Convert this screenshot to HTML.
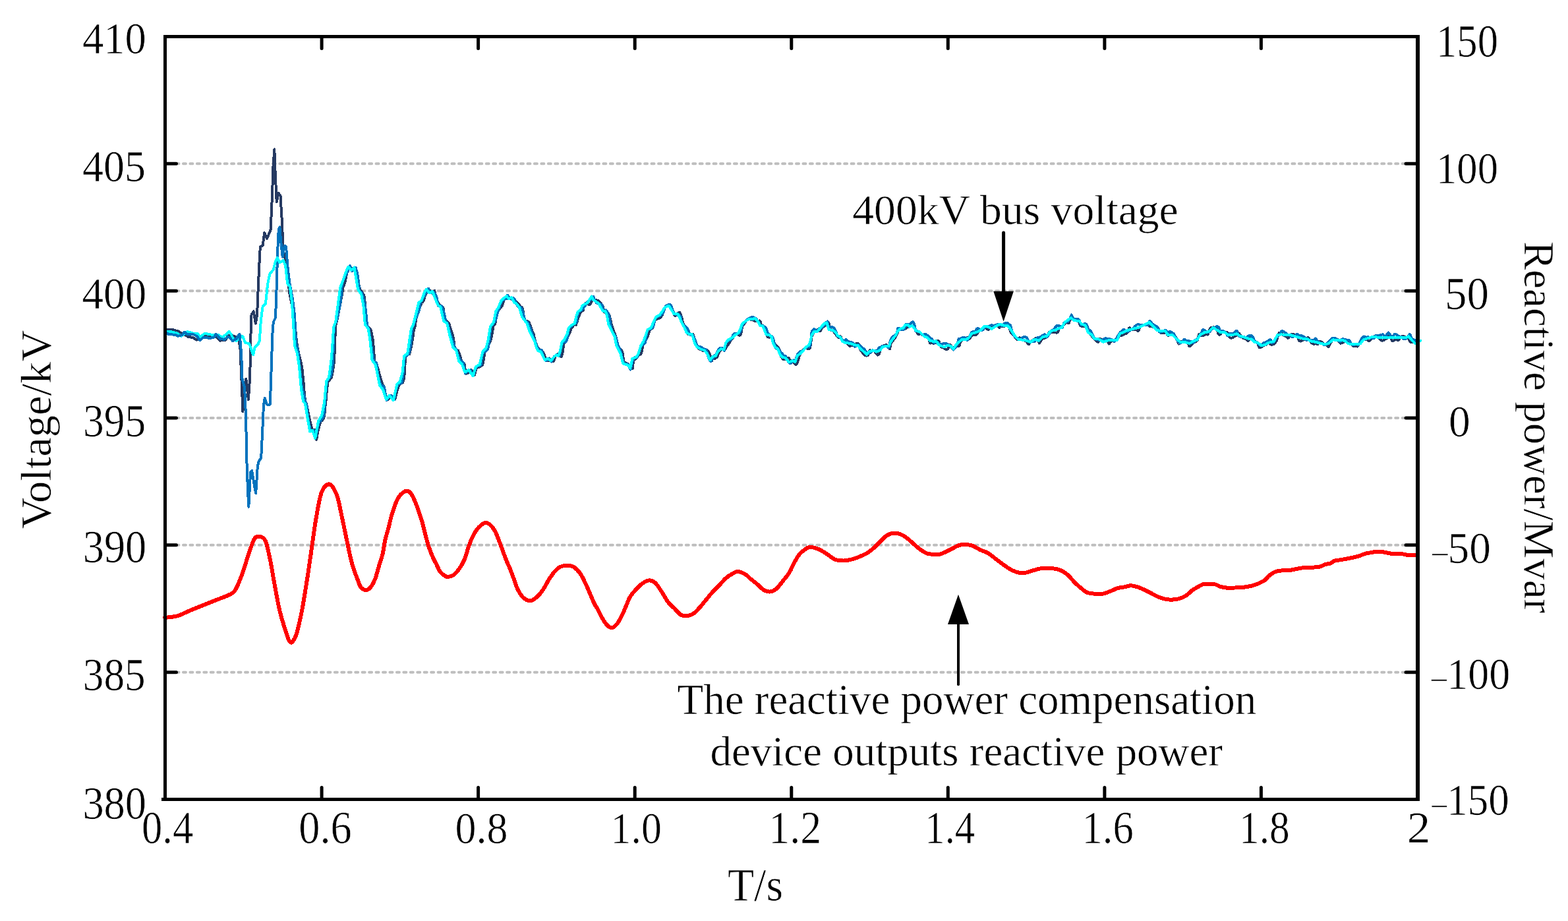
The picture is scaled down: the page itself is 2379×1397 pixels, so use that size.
<!DOCTYPE html>
<html><head><meta charset="utf-8"><style>html,body{margin:0;padding:0;background:#fff;overflow:hidden}svg{display:block}</style></head>
<body>
<svg width="2379" height="1397" viewBox="0 0 2379 1397">
<rect width="2379" height="1397" fill="#fff"/>
<line x1="267.5" y1="248.3" x2="2133.0" y2="248.3" stroke="#bebebe" stroke-width="4" stroke-dasharray="4 6.45" stroke-linecap="round"/>
<line x1="267.5" y1="441.2" x2="2133.0" y2="441.2" stroke="#bebebe" stroke-width="4" stroke-dasharray="4 6.45" stroke-linecap="round"/>
<line x1="267.5" y1="634.0" x2="2133.0" y2="634.0" stroke="#bebebe" stroke-width="4" stroke-dasharray="4 6.45" stroke-linecap="round"/>
<line x1="267.5" y1="826.8" x2="2133.0" y2="826.8" stroke="#bebebe" stroke-width="4" stroke-dasharray="4 6.45" stroke-linecap="round"/>
<line x1="267.5" y1="1019.7" x2="2133.0" y2="1019.7" stroke="#bebebe" stroke-width="4" stroke-dasharray="4 6.45" stroke-linecap="round"/>
<path d="M250.0 936.9C253.2 936.5 262.9 936.0 269.3 934.2C275.8 932.4 282.2 928.6 288.7 925.9C295.1 923.2 301.6 920.7 308.0 918.1C314.4 915.5 320.9 913.0 327.3 910.4C333.8 907.8 341.9 905.1 346.7 902.7C351.5 900.3 353.1 900.6 356.3 895.9C359.5 891.2 362.8 883.0 366.0 874.6C369.2 866.2 372.4 855.0 375.6 845.7C378.8 836.4 382.4 823.9 385.3 818.6C388.2 813.3 390.1 813.5 393.0 813.8C395.9 814.1 399.8 814.2 402.7 820.5C405.6 826.8 408.1 840.9 410.4 851.5C412.6 862.1 413.9 872.1 416.2 884.3C418.5 896.5 421.4 913.6 424.0 924.9C426.6 936.2 429.0 943.8 431.7 952.0C434.4 960.2 437.5 972.3 440.4 974.2C443.3 976.1 446.4 970.5 449.1 963.6C451.8 956.7 454.6 943.2 456.8 932.6C459.1 922.0 460.7 911.4 462.6 899.8C464.5 888.2 466.5 875.9 468.4 863.0C470.3 850.1 472.3 835.7 474.2 822.5C476.1 809.3 477.7 796.4 480.0 783.8C482.3 771.2 484.6 755.3 487.8 747.1C491.0 738.9 495.5 733.9 499.4 734.5C503.3 735.1 507.8 742.7 511.0 750.9C514.2 759.1 516.1 772.2 518.7 783.8C521.3 795.4 523.8 808.6 526.4 820.5C529.0 832.4 531.3 845.0 534.2 855.3C537.1 865.6 541.5 876.4 543.8 882.4C546.0 888.4 545.9 889.0 547.7 891.1C549.5 893.2 552.2 894.8 554.5 894.9C556.8 895.0 558.9 894.7 561.3 892.0C563.7 889.3 566.8 884.0 569.0 878.5C571.2 873.0 572.9 865.6 574.8 859.2C576.7 852.8 579.0 846.7 580.6 839.9C582.2 833.1 583.0 825.0 584.5 818.6C586.0 812.2 587.7 807.3 589.3 801.2C590.9 795.1 592.3 788.0 594.1 781.9C595.9 775.8 598.0 769.3 599.9 764.5C601.8 759.7 603.8 755.8 605.7 752.9C607.6 750.0 609.6 748.5 611.5 747.1C613.4 745.7 615.4 744.6 617.3 744.7C619.2 744.9 621.2 745.7 623.1 748.0C625.0 750.3 627.0 754.4 628.9 758.7C630.8 763.1 632.8 768.6 634.7 774.1C636.6 779.6 638.7 785.4 640.5 791.5C642.3 797.6 643.8 804.8 645.4 810.9C647.0 817.0 648.4 822.8 650.2 828.3C652.0 833.8 654.1 839.2 656.0 843.7C657.9 848.2 659.9 851.4 661.8 855.3C663.7 859.2 665.4 863.8 667.6 866.9C669.9 870.0 673.2 872.4 675.3 873.7C677.4 875.1 678.0 875.3 680.2 875.0C682.5 874.7 686.1 873.7 688.8 871.7C691.5 869.7 694.0 866.7 696.6 863.0C699.2 859.3 702.0 854.6 704.3 849.5C706.5 844.4 708.2 837.6 710.1 832.1C712.0 826.6 713.6 821.5 715.9 816.7C718.1 811.9 721.0 806.7 723.6 803.1C726.2 799.5 729.3 797.1 731.4 795.4C733.5 793.7 734.3 793.1 736.2 793.1C738.1 793.1 740.6 793.4 743.0 795.4C745.4 797.4 748.5 801.2 750.7 805.1C753.0 809.0 754.6 813.8 756.5 818.6C758.4 823.4 760.4 829.0 762.3 834.1C764.2 839.2 766.2 844.7 768.1 849.5C770.0 854.3 772.0 858.2 773.9 863.0C775.8 867.8 777.8 873.3 779.7 878.5C781.6 883.7 783.2 889.5 785.5 894.0C787.8 898.5 790.1 902.7 793.2 905.6C796.3 908.5 800.4 911.4 803.9 911.4C807.4 911.4 811.1 908.5 814.5 905.6C817.9 902.7 821.3 898.2 824.2 894.0C827.1 889.8 830.0 883.6 831.9 880.4C833.8 877.2 834.2 876.9 835.8 874.6C837.4 872.4 839.4 869.3 841.6 866.9C843.9 864.5 846.1 861.6 849.3 860.1C852.5 858.6 857.3 857.6 860.9 857.6C864.5 857.6 867.4 858.1 870.6 860.1C873.8 862.1 877.4 865.8 880.3 869.8C883.2 873.8 885.4 879.0 888.0 884.3C890.6 889.6 893.5 896.6 895.7 901.7C898.0 906.9 899.6 911.3 901.5 915.2C903.4 919.1 905.4 921.4 907.3 924.9C909.2 928.4 910.8 932.6 913.1 936.5C915.4 940.4 918.3 945.5 920.9 948.1C923.5 950.7 926.0 952.3 928.6 952.0C931.2 951.7 933.7 949.4 936.3 946.2C938.9 943.0 941.8 937.1 944.1 932.6C946.4 928.1 948.0 923.6 949.9 919.1C951.8 914.6 953.5 909.5 955.7 905.6C958.0 901.7 960.5 899.1 963.4 895.9C966.3 892.7 969.5 888.8 973.0 886.2C976.5 883.6 981.1 880.7 984.6 880.4C988.1 880.1 991.1 881.4 994.3 884.3C997.5 887.2 1000.8 893.0 1004.0 897.8C1007.2 902.6 1010.4 909.1 1013.6 913.3C1016.8 917.5 1020.1 919.8 1023.3 923.0C1026.5 926.2 1029.8 930.7 1033.0 932.6C1036.2 934.5 1039.4 934.5 1042.6 934.2C1045.8 933.9 1049.1 932.9 1052.3 930.7C1055.5 928.5 1058.8 924.5 1062.0 921.0C1065.2 917.5 1068.4 913.3 1071.6 909.4C1074.8 905.5 1078.1 901.3 1081.3 897.8C1084.5 894.3 1087.8 891.6 1091.0 888.2C1094.2 884.8 1097.4 880.5 1100.6 877.6C1103.8 874.7 1107.1 872.6 1110.3 870.8C1113.5 869.0 1116.5 866.8 1120.0 866.9C1123.5 867.0 1128.4 869.8 1131.6 871.7C1134.8 873.6 1136.4 876.1 1139.3 878.5C1142.2 880.9 1145.8 883.5 1149.0 886.2C1152.2 888.9 1155.5 893.0 1158.7 894.9C1161.9 896.8 1165.1 897.8 1168.3 897.5C1171.5 897.2 1174.8 895.7 1178.0 893.0C1181.2 890.3 1184.5 885.4 1187.7 881.4C1190.9 877.4 1194.4 873.6 1197.3 868.9C1200.2 864.2 1202.5 858.1 1205.1 853.4C1207.7 848.7 1210.2 844.0 1212.8 840.8C1215.4 837.6 1217.9 835.9 1220.5 834.1C1223.1 832.3 1225.1 830.1 1228.3 829.8C1231.5 829.5 1236.7 831.1 1239.9 832.1C1243.1 833.1 1245.0 834.5 1247.6 836.0C1250.2 837.5 1252.1 838.7 1255.3 840.8C1258.5 842.9 1262.7 847.0 1266.9 848.6C1271.1 850.2 1275.9 850.6 1280.4 850.5C1284.9 850.4 1289.8 849.1 1294.0 848.0C1298.2 846.9 1301.7 845.4 1305.6 843.7C1309.5 842.0 1313.7 840.1 1317.2 837.9C1320.7 835.6 1323.6 833.1 1326.8 830.2C1330.0 827.3 1333.3 823.6 1336.5 820.5C1339.7 817.4 1342.7 813.8 1346.2 811.8C1349.8 809.8 1353.9 808.5 1357.8 808.5C1361.7 808.5 1365.9 810.1 1369.4 811.8C1372.9 813.5 1375.8 816.0 1379.0 818.6C1382.2 821.2 1385.5 824.6 1388.7 827.3C1391.9 830.0 1395.2 832.9 1398.4 835.0C1401.6 837.1 1404.4 838.9 1408.0 839.9C1411.6 840.9 1417.1 840.6 1420.0 840.8C1422.9 840.9 1423.0 841.4 1425.5 840.8C1428.0 840.2 1431.9 838.5 1435.1 837.0C1438.3 835.5 1441.6 833.7 1444.8 832.1C1448.0 830.5 1451.3 828.3 1454.5 827.3C1457.7 826.3 1460.6 825.8 1464.1 825.9C1467.6 826.0 1471.8 826.5 1475.7 827.9C1479.6 829.3 1483.4 832.3 1487.3 834.1C1491.2 835.9 1495.0 836.6 1498.9 838.9C1502.8 841.1 1506.6 844.7 1510.5 847.6C1514.4 850.5 1518.2 853.6 1522.1 856.3C1526.0 859.0 1529.8 862.0 1533.7 864.0C1537.6 866.0 1541.4 867.8 1545.3 868.5C1549.2 869.2 1553.0 869.1 1556.9 868.5C1560.8 867.9 1564.6 866.1 1568.5 865.0C1572.4 863.9 1575.6 862.6 1580.1 862.1C1584.6 861.6 1590.8 861.6 1595.6 862.1C1600.4 862.6 1604.9 863.2 1609.1 865.0C1613.3 866.8 1617.2 869.7 1620.7 872.7C1624.2 875.8 1627.2 880.1 1630.4 883.3C1633.6 886.5 1636.8 889.4 1640.0 892.0C1643.2 894.6 1646.2 897.3 1649.7 898.8C1653.2 900.2 1657.4 900.4 1661.3 900.7C1665.2 901.0 1669.0 901.3 1672.9 900.7C1676.8 900.1 1680.6 898.4 1684.5 896.9C1688.4 895.4 1692.2 893.1 1696.1 892.0C1700.0 890.9 1704.5 890.7 1707.7 890.1C1710.9 889.5 1712.6 888.2 1715.5 888.2C1718.4 888.2 1721.9 889.1 1725.1 890.1C1728.3 891.1 1731.2 892.4 1734.8 894.0C1738.3 895.6 1742.5 897.9 1746.4 899.8C1750.3 901.7 1754.1 904.0 1758.0 905.6C1761.9 907.2 1765.7 908.5 1769.6 909.1C1773.5 909.7 1777.7 909.7 1781.2 909.4C1784.8 909.1 1787.7 908.6 1790.9 907.5C1794.1 906.4 1797.6 904.6 1800.5 902.7C1803.4 900.8 1805.7 897.8 1808.3 895.9C1810.9 894.0 1813.1 892.7 1816.0 891.1C1818.9 889.5 1822.5 887.1 1825.7 886.2C1828.9 885.3 1832.4 885.7 1835.3 885.7C1838.2 885.7 1840.5 885.6 1843.1 886.2C1845.7 886.8 1847.9 888.6 1850.8 889.5C1853.7 890.4 1856.5 891.2 1860.4 891.5C1864.3 891.8 1869.8 891.6 1874.0 891.5C1878.2 891.4 1881.4 891.4 1885.6 890.9C1889.8 890.4 1895.2 889.5 1899.1 888.6C1903.0 887.7 1905.6 886.7 1908.8 885.3C1912.0 883.9 1915.5 882.5 1918.4 880.4C1921.3 878.3 1923.3 875.0 1926.2 872.7C1929.1 870.5 1932.6 868.1 1935.8 866.9C1939.0 865.7 1941.6 865.8 1945.5 865.4C1949.4 865.0 1954.9 865.1 1959.0 864.6C1963.1 864.1 1966.5 863.0 1970.0 862.4C1973.5 861.8 1976.7 861.0 1980.0 860.7C1983.3 860.4 1986.3 860.9 1990.0 860.7C1993.7 860.5 1998.8 860.5 2002.1 859.7C2005.4 859.0 2007.4 857.1 2010.1 856.2C2012.8 855.4 2015.6 855.5 2018.1 854.6C2020.6 853.7 2022.3 851.5 2025.1 850.6C2027.9 849.7 2031.8 849.7 2035.1 849.1C2038.4 848.5 2041.9 847.8 2045.2 847.1C2048.6 846.4 2052.2 845.8 2055.2 845.1C2058.2 844.4 2060.7 843.9 2063.2 843.1C2065.7 842.3 2067.4 840.9 2070.2 840.1C2073.0 839.3 2076.8 838.7 2080.2 838.1C2083.5 837.5 2087.0 836.7 2090.3 836.6C2093.7 836.5 2097.0 837.1 2100.3 837.6C2103.6 838.1 2106.1 839.2 2110.3 839.6C2114.5 840.0 2121.1 839.5 2125.3 839.9C2129.5 840.3 2131.6 841.4 2135.4 841.8C2139.2 842.2 2146.2 842.0 2148.4 842.1" fill="none" stroke="#ff0000" stroke-width="6" stroke-linejoin="round" stroke-linecap="round" shape-rendering="crispEdges"/>
<polyline points="253.0,499.6 261.6,499.6 263.6,500.8 270.2,502.1 274.7,505.1 280.3,507.7 285.3,510.7 292.9,512.2 298.4,515.7 308.0,508.7 322.6,508.7 327.2,510.2 333.7,516.7 342.3,515.7 345.8,508.7 355.4,509.7 362.0,513.2 364.5,530.0 366.6,579.5 368.4,624.5 370.5,600.0 373.3,574.6 376.9,606.3 378.7,579.5 380.0,543.0 380.6,500.4 381.5,477.7 384.7,472.3 387.9,490.6 390.1,477.7 391.8,434.7 393.3,402.5 394.8,374.6 398.7,372.5 401.2,353.1 405.1,361.7 410.5,348.8 412.0,318.8 413.3,288.7 414.1,258.7 416.3,226.4 417.5,258.7 419.7,305.9 422.7,293.0 425.5,297.3 427.6,331.7 429.8,381.0 431.9,387.5 435.2,413.3 439.5,445.5 443.7,466.9 447.0,488.4 450.2,520.0 453.5,536.9 453.9,538.5 454.2,540.0 454.5,541.5 454.9,543.0 455.2,544.4 455.6,545.8 455.9,547.3 456.3,548.7 456.6,550.1 457.0,551.5 457.3,552.9 457.6,554.4 457.9,555.8 458.1,557.4 458.3,558.9 458.5,560.4 458.7,561.9 458.9,563.5 459.0,565.1 459.2,566.6 459.4,568.2 459.5,569.8 459.7,571.4 459.9,573.0 460.0,574.7 460.2,576.3 460.3,577.9 460.4,579.6 460.6,581.3 460.7,582.9 460.8,584.6 461.0,586.3 461.1,588.0 461.2,589.7 461.3,591.4 461.5,593.2 461.7,594.9 461.9,596.7 462.1,598.5 462.2,600.2 462.4,601.9 462.5,603.6 462.7,605.2 462.8,606.8 462.9,608.4 463.0,609.9 463.2,611.3 463.7,612.1 464.3,612.4 465.1,612.7 465.3,614.0 465.5,615.4 465.8,616.7 466.0,618.1 466.3,619.5 466.6,621.0 466.9,622.5 467.2,624.0 467.5,625.6 467.8,627.2 468.2,628.8 468.5,630.4 468.9,632.1 469.2,633.7 469.6,635.3 470.0,637.0 470.4,638.6 470.8,640.1 471.2,641.7 471.5,643.2 471.9,644.7 472.3,646.2 472.7,647.6 473.0,649.0 473.4,650.4 473.7,651.7 474.0,653.0 474.4,654.3 476.4,652.1 477.7,652.0 478.0,654.0 478.3,656.1 478.5,658.2 478.8,660.3 479.1,662.2 479.4,663.9 479.7,665.5 480.1,667.0 480.4,665.3 480.7,663.7 481.0,661.9 481.3,660.2 481.6,658.4 482.0,656.7 482.4,654.9 482.7,653.2 483.1,651.5 483.5,649.8 484.0,648.2 484.4,646.6 484.8,645.1 485.3,643.5 485.7,642.1 486.1,640.7 486.6,639.2 487.8,638.4 488.9,637.4 489.9,636.2 490.8,634.5 491.6,632.5 492.2,630.3 492.4,628.4 492.6,626.5 492.7,624.7 492.9,622.9 493.1,621.2 493.2,619.5 493.4,617.9 493.5,616.3 493.7,614.8 493.9,613.4 494.0,612.0 494.2,610.7 494.4,609.5 494.5,608.1 494.6,606.7 494.7,605.3 494.8,603.9 494.9,602.6 495.0,601.2 495.2,599.8 495.3,598.4 495.4,597.0 495.5,595.6 495.7,594.2 495.8,592.8 496.0,591.4 496.1,590.0 496.3,588.6 496.4,587.1 496.6,585.7 496.7,584.2 496.9,582.7 497.1,581.3 497.3,579.8 498.6,578.2 500.0,576.2 501.5,574.3 503.0,572.7 503.3,571.1 503.6,569.6 503.9,568.1 504.1,566.7 504.4,565.2 504.7,563.8 504.9,562.4 505.2,561.0 505.4,559.6 505.6,558.2 505.9,556.8 506.1,555.4 506.3,554.0 506.4,552.5 506.6,551.0 506.7,549.6 506.8,548.1 506.9,546.5 507.0,545.0 507.1,543.5 507.2,541.9 507.3,540.4 507.4,538.8 507.5,537.2 507.6,535.6 507.7,534.0 507.7,532.3 507.8,530.7 507.9,529.1 507.9,527.5 508.0,525.9 508.0,524.3 508.1,522.7 508.1,521.1 508.2,519.5 508.2,517.8 508.3,516.2 508.3,514.6 508.4,512.9 508.4,511.3 508.5,509.7 508.5,508.0 508.5,506.4 508.6,504.8 508.6,503.1 508.7,501.5 508.7,499.8 508.8,498.2 508.8,496.5 509.2,494.2 509.6,492.1 510.1,490.1 510.6,488.5 511.2,487.0 511.4,485.5 511.7,484.1 511.9,482.6 512.2,481.2 512.5,479.8 512.7,478.3 513.0,476.9 513.3,475.5 513.6,474.0 513.9,472.6 514.2,471.1 514.5,469.6 514.8,468.1 515.1,466.6 515.4,465.1 515.7,463.6 516.0,462.1 516.3,460.6 516.6,459.1 516.9,457.5 517.2,455.9 517.5,454.3 517.8,452.7 518.1,451.1 518.4,449.5 518.7,447.9 518.9,446.3 519.2,444.7 519.4,443.1 519.7,441.5 519.9,439.9 520.2,438.4 520.4,436.8 520.6,435.3 521.2,434.0 521.7,432.9 522.1,431.9 522.5,431.1 522.8,430.3 523.1,429.5 523.4,428.6 523.7,427.3 523.9,425.9 524.2,424.4 524.5,422.6 524.9,420.8 525.3,418.8 525.7,416.8 526.2,414.8 526.9,412.7 527.8,410.8 528.7,409.2 529.6,407.8 530.6,406.6 531.6,405.4 533.5,407.0 535.1,407.9 536.4,408.0 537.4,408.3 538.2,406.8 538.9,406.5 539.7,406.7 539.9,408.6 540.1,410.4 540.3,412.2 540.5,413.9 540.8,415.6 541.1,417.2 541.4,418.7 541.7,420.3 542.0,421.7 542.3,423.2 542.6,424.6 542.9,425.9 543.2,427.3 543.6,428.6 543.9,430.0 544.3,431.3 544.7,432.7 545.0,434.1 545.4,435.5 545.8,436.9 546.2,438.4 546.6,439.9 548.0,441.4 549.3,443.2 550.5,445.1 551.5,446.6 552.3,447.5 552.5,448.8 552.7,450.1 552.8,451.3 553.0,452.5 553.1,453.7 553.3,454.9 553.4,456.1 553.6,457.3 553.7,458.5 553.8,459.8 554.0,461.1 554.1,462.4 554.2,463.9 554.3,465.4 554.4,467.0 554.4,468.5 554.5,470.0 554.6,471.6 554.7,473.2 554.8,474.7 554.9,476.3 555.0,478.0 555.1,479.6 555.2,481.2 555.3,482.9 555.4,484.5 555.5,486.2 555.7,487.8 555.8,489.5 555.9,491.2 556.9,493.5 558.1,495.6 559.5,497.2 561.0,498.4 562.4,499.2 562.7,500.6 563.1,502.0 563.4,503.4 563.7,504.8 564.0,506.3 564.3,507.7 564.6,509.2 564.9,510.7 565.2,512.3 565.4,513.9 565.7,515.5 565.9,517.1 566.0,518.8 566.2,520.5 566.4,522.2 566.5,523.9 566.7,525.6 566.8,527.3 566.9,529.0 567.1,530.7 567.2,532.4 567.3,534.1 567.4,535.8 567.5,537.5 567.7,539.2 567.8,540.9 567.9,542.6 568.0,544.2 568.1,545.9 568.1,547.5 568.2,549.1 568.7,550.3 569.2,550.9 569.8,551.1 570.6,551.3 571.5,552.0 571.9,553.5 572.3,555.1 572.7,556.8 573.2,558.6 573.7,560.4 574.2,562.3 574.7,564.2 575.2,565.9 575.6,567.6 576.1,569.3 576.6,571.0 577.0,572.6 577.5,574.1 578.0,575.7 578.4,577.1 578.9,578.6 579.3,579.9 579.7,581.3 580.1,582.6 580.4,584.0 581.5,584.8 582.3,586.0 583.0,587.7 583.5,590.0 584.0,592.5 584.2,594.5 584.5,596.4 584.8,598.1 585.2,599.6 585.6,601.0 586.0,602.2 586.5,603.3 587.0,604.4 587.6,605.4 588.3,606.4 589.6,604.6 591.1,603.3 592.5,602.5 593.9,601.8 595.2,600.9 596.3,602.0 597.1,602.5 597.8,602.9 598.4,603.3 598.9,604.3 599.4,605.8 599.6,604.6 599.8,603.3 600.0,602.2 600.3,601.1 600.6,599.9 600.9,598.8 601.2,597.6 601.6,596.4 601.9,595.1 602.3,593.8 602.8,592.3 603.2,590.8 603.7,589.2 604.2,587.6 604.7,585.9 605.2,584.1 607.3,582.2 609.3,581.0 611.0,580.5 611.4,579.3 611.8,578.1 612.2,576.8 612.5,575.4 612.8,574.0 613.0,572.5 613.3,570.8 613.5,569.1 613.7,567.2 613.9,565.3 614.0,563.6 614.1,561.9 614.1,560.1 614.2,558.4 614.3,556.7 614.4,555.0 614.5,553.3 614.5,551.5 614.6,549.8 614.7,548.1 614.8,546.5 614.9,544.8 615.0,543.1 615.1,541.5 615.2,539.8 615.3,538.2 616.8,537.2 618.8,537.5 621.2,537.4 621.6,535.8 622.0,534.2 622.4,532.5 622.8,530.8 623.2,529.0 623.6,527.3 623.9,525.5 624.3,523.7 624.7,521.9 624.9,520.3 625.2,518.7 625.5,517.1 625.7,515.5 626.0,513.9 626.2,512.4 626.4,510.9 626.7,509.4 626.9,507.9 627.1,506.5 627.2,505.1 627.4,503.7 627.6,502.3 627.7,501.0 627.9,499.6 628.4,498.8 628.8,497.8 629.2,496.6 629.7,494.8 629.9,493.2 630.1,491.5 630.4,489.6 630.7,487.8 631.0,485.9 631.3,484.0 631.7,482.1 632.1,480.3 632.5,478.5 632.9,476.7 633.4,475.0 633.9,473.4 634.5,471.9 635.0,470.4 635.6,469.1 636.2,467.7 636.7,466.4 637.3,465.2 637.9,463.8 638.4,462.5 639.0,461.1 639.5,459.6 641.2,458.1 642.4,456.2 643.4,454.7 643.6,453.4 643.9,452.2 644.2,451.2 644.4,450.3 644.7,449.4 645.0,448.6 645.3,447.7 645.7,446.7 646.4,445.6 647.3,444.0 648.3,442.1 649.4,440.0 650.8,440.3 652.3,441.0 653.7,442.2 655.0,443.8 656.2,445.4 657.5,444.6 658.4,442.8 659.2,440.7 659.5,441.8 659.8,443.1 660.1,444.7 660.5,446.5 661.0,448.5 661.5,450.6 662.1,452.8 662.8,454.8 663.5,456.8 664.3,458.5 665.1,460.0 666.0,461.4 666.9,462.5 667.7,463.6 669.7,464.1 671.3,465.2 672.6,467.1 672.9,468.9 673.1,470.6 673.3,472.4 673.5,474.0 673.7,475.6 673.9,477.2 674.1,478.6 674.3,480.0 674.4,481.3 674.6,482.5 674.8,483.7 675.0,484.8 675.2,485.9 675.5,487.0 676.9,486.7 678.8,488.0 681.2,490.4 681.7,492.2 682.2,493.9 682.7,495.6 683.2,497.2 683.7,498.7 684.2,500.2 684.7,501.6 685.1,503.0 685.6,504.4 686.0,505.7 686.3,507.1 686.7,508.4 687.1,509.8 687.5,511.2 687.8,512.7 688.1,514.3 688.4,516.0 688.6,517.8 688.8,519.6 689.0,521.5 689.2,523.5 689.5,525.4 689.7,527.3 689.9,529.1 690.7,530.7 691.7,531.3 693.1,531.2 694.7,531.3 695.2,532.5 695.8,533.9 696.3,535.3 696.9,536.9 697.5,538.5 698.0,540.1 698.6,541.8 699.1,543.5 699.6,545.2 700.1,546.9 700.6,548.5 701.9,549.7 703.0,550.3 703.8,550.7 704.4,551.6 704.7,553.2 704.9,554.9 705.2,556.8 705.5,558.8 705.9,560.9 706.3,562.9 706.8,564.9 707.3,566.8 709.1,566.2 711.1,564.5 713.3,562.6 715.3,561.5 716.4,563.2 717.4,565.0 718.1,566.5 718.7,567.7 719.2,568.3 719.7,568.7 720.2,569.0 720.5,567.1 720.8,565.4 721.2,563.7 721.6,562.3 722.0,560.9 722.4,559.7 723.0,558.6 723.5,557.5 724.1,556.5 726.2,556.9 728.3,556.2 730.3,554.7 732.0,553.4 732.4,551.9 732.7,550.5 733.0,549.1 733.3,547.8 733.5,546.6 733.8,545.3 734.0,544.1 734.2,542.8 734.4,541.5 734.6,540.2 734.8,538.7 734.9,537.2 735.2,535.5 735.9,533.4 737.0,530.7 738.3,528.3 739.9,526.8 740.4,525.4 741.0,524.2 741.5,522.9 742.0,521.7 742.6,520.6 743.1,519.4 743.7,518.2 744.2,516.9 744.7,515.6 745.1,514.2 745.4,512.7 745.7,511.2 746.0,509.7 746.3,508.1 746.6,506.5 746.9,504.9 747.1,503.3 747.4,501.6 747.6,500.0 747.8,498.3 748.0,496.7 748.2,495.0 748.9,493.5 749.4,492.6 749.9,492.1 750.5,491.9 751.1,491.4 751.4,490.1 751.6,488.7 751.9,487.2 752.2,485.7 752.5,484.1 752.8,482.4 753.2,480.7 753.5,479.0 753.9,477.2 754.3,475.4 754.7,473.5 755.9,471.4 757.1,469.4 758.3,467.9 759.5,466.6 760.6,465.7 761.3,464.6 762.0,463.4 762.5,462.2 763.0,460.7 763.5,459.1 763.9,457.4 764.2,455.5 764.8,453.6 765.3,452.1 766.0,451.5 767.4,452.1 769.4,452.6 771.7,451.6 773.4,452.2 774.9,452.8 776.3,453.8 777.7,453.3 778.8,453.2 779.5,452.5 780.0,453.7 780.4,454.5 780.9,455.1 781.5,455.8 782.3,456.9 783.8,457.9 785.5,459.9 787.4,462.0 788.8,463.8 790.2,465.1 791.4,466.1 792.4,466.9 792.8,468.3 793.2,469.8 793.5,471.4 793.8,473.1 794.1,474.8 794.3,476.7 794.6,478.6 794.8,480.5 795.0,482.5 795.5,484.4 796.1,485.7 796.9,486.5 797.8,486.7 798.9,486.9 800.2,487.3 801.6,488.3 803.0,489.8 803.7,491.5 804.4,493.3 805.1,495.1 805.7,496.8 806.3,498.5 806.9,500.1 807.4,501.6 807.9,503.0 808.5,504.2 809.0,505.3 809.5,506.4 809.9,507.9 810.3,509.7 810.7,511.8 811.2,514.1 811.8,516.5 812.4,518.8 813.2,520.7 813.8,522.3 814.3,523.7 814.9,525.0 815.5,526.2 816.1,527.4 816.8,528.4 818.0,529.3 819.3,530.4 820.5,531.8 822.7,533.1 824.2,534.2 824.6,535.4 825.0,536.3 825.4,537.2 825.8,538.2 826.3,539.4 827.0,541.3 827.8,543.6 828.8,546.3 830.5,546.9 832.5,546.8 834.4,545.7 836.1,545.6 837.5,545.8 838.7,546.7 839.5,548.2 840.2,547.3 840.8,545.5 841.7,542.8 842.9,540.1 844.3,538.0 846.1,537.0 849.0,539.4 851.6,541.0 852.2,539.3 852.7,537.6 853.2,535.8 853.6,534.0 854.0,532.3 854.2,530.6 854.4,529.0 854.6,527.4 854.8,525.8 855.0,524.4 855.1,522.9 855.3,521.6 855.5,520.2 856.2,520.0 857.1,519.3 858.3,517.6 859.3,515.3 860.3,512.9 861.4,510.5 862.6,508.3 863.7,506.5 864.3,505.0 864.8,503.6 865.3,502.3 865.8,501.0 866.3,499.8 866.7,498.5 867.2,497.3 868.4,496.5 869.3,495.0 870.0,492.9 870.9,491.6 872.1,491.9 873.9,493.0 874.3,491.7 874.8,490.2 875.3,488.7 875.9,487.1 876.4,485.4 876.9,483.6 877.5,481.7 878.4,479.5 879.3,477.3 880.2,475.1 881.1,473.1 882.6,471.9 883.8,471.5 884.6,471.2 885.0,469.7 885.3,467.9 885.7,465.9 886.0,463.7 886.9,461.7 888.0,460.3 889.5,460.0 892.2,461.4 895.0,462.0 896.3,460.1 897.4,458.0 898.4,455.8 899.2,454.0 899.7,452.9 900.2,452.0 900.6,451.3 901.1,453.4 901.6,455.1 902.2,456.4 903.4,456.0 905.0,455.4 906.8,455.6 908.7,456.9 910.6,458.9 912.2,460.7 913.0,462.1 913.7,463.3 914.3,464.3 914.7,465.3 915.1,466.4 915.6,468.1 916.0,470.2 916.5,472.7 918.2,474.3 920.5,473.8 921.4,474.8 922.4,475.6 923.4,476.5 924.3,477.5 924.7,478.9 925.1,480.4 925.5,481.8 925.9,483.4 926.2,484.9 926.6,486.6 926.9,488.2 927.2,489.9 927.5,491.6 928.4,493.8 929.1,495.9 929.6,497.7 930.1,499.1 930.5,500.2 930.9,501.2 931.3,502.3 931.8,503.8 932.5,505.8 933.4,508.3 934.4,511.1 934.8,513.1 935.2,515.1 935.6,517.1 936.1,519.0 936.6,520.9 937.1,522.7 937.5,524.4 938.0,526.0 939.3,527.5 940.4,528.5 941.5,529.5 942.4,530.5 943.2,531.7 943.9,533.2 944.4,535.0 944.9,536.9 945.1,538.6 945.3,540.2 945.5,541.8 945.6,543.4 945.8,544.8 946.0,546.2 946.3,547.5 946.5,548.8 946.8,549.9 947.0,551.1 949.0,550.1 951.6,551.4 954.4,554.3 957.0,556.0 958.1,557.2 959.0,558.1 959.7,559.3 959.9,557.8 960.1,556.4 960.2,555.0 960.4,553.6 960.5,552.3 960.7,551.0 960.9,549.8 961.0,548.5 961.2,547.2 961.4,545.9 962.8,545.6 964.7,543.5 967.2,541.1 968.6,539.3 970.0,538.2 971.2,537.5 972.4,537.1 972.9,535.8 973.3,534.5 973.7,533.1 974.1,531.5 974.4,529.8 974.7,528.1 975.0,526.3 975.2,524.5 975.6,523.0 976.0,521.7 976.5,520.7 977.1,520.1 977.7,519.6 978.3,518.7 978.9,517.8 979.6,516.6 980.3,515.3 981.0,513.8 981.8,512.1 982.6,510.1 983.4,508.1 984.2,505.9 984.9,503.7 985.6,501.6 986.3,499.7 988.2,498.4 989.5,498.3 990.4,497.5 990.7,495.7 991.1,493.8 991.5,491.8 991.9,490.0 992.4,488.3 993.1,486.8 993.9,485.7 994.9,484.9 996.0,484.4 997.1,483.9 998.2,483.2 1000.7,482.7 1002.7,480.7 1004.1,478.8 1004.8,477.5 1005.3,476.5 1005.7,475.6 1006.3,474.3 1007.0,472.2 1007.8,469.7 1008.9,467.0 1010.1,464.5 1012.3,463.6 1014.7,464.3 1016.7,465.4 1018.4,465.4 1019.1,466.7 1019.7,467.7 1020.2,469.0 1020.6,470.5 1021.1,472.3 1021.6,474.3 1022.2,476.2 1023.0,477.9 1024.0,479.2 1026.3,477.3 1028.9,474.8 1031.4,473.9 1032.3,475.6 1033.1,477.5 1033.7,479.4 1034.3,481.1 1034.7,483.0 1035.0,484.6 1035.3,486.2 1035.7,487.6 1036.0,489.1 1036.5,490.5 1037.1,492.2 1037.9,494.4 1038.8,496.8 1039.8,499.3 1040.7,501.4 1041.6,503.2 1042.5,504.8 1043.4,506.2 1044.3,507.2 1046.3,506.7 1047.8,506.4 1049.0,507.0 1050.2,507.6 1051.4,507.1 1051.7,508.3 1052.1,509.5 1052.6,510.6 1053.1,511.9 1053.5,513.2 1054.0,514.6 1054.6,516.2 1055.1,517.8 1055.7,519.6 1056.8,521.8 1058.0,524.3 1059.2,526.7 1060.3,528.9 1062.0,530.1 1063.3,530.3 1064.3,530.2 1065.0,530.6 1065.8,531.4 1066.8,532.3 1068.2,532.0 1070.1,530.7 1071.7,530.8 1073.3,531.6 1074.8,533.3 1076.3,535.6 1077.1,538.0 1077.9,540.4 1078.5,542.5 1079.0,544.4 1079.5,546.1 1079.9,547.5 1080.4,545.9 1080.9,544.6 1081.6,543.7 1082.4,543.2 1084.8,543.9 1087.8,541.8 1089.0,539.2 1090.2,536.5 1091.3,534.2 1092.3,532.3 1093.1,530.9 1094.2,530.6 1095.0,530.3 1095.7,529.2 1097.1,529.1 1099.3,530.8 1099.8,529.9 1100.4,529.0 1101.1,528.1 1101.7,527.2 1102.4,526.2 1103.0,525.0 1103.7,523.8 1105.2,522.4 1106.6,520.2 1107.8,517.6 1109.1,515.4 1110.0,514.3 1110.8,513.8 1111.8,512.6 1113.0,510.1 1114.7,507.6 1116.6,506.2 1118.6,506.7 1120.4,507.8 1122.0,508.6 1123.3,508.3 1124.0,506.5 1124.5,504.5 1124.9,502.5 1125.3,500.6 1125.5,499.1 1125.8,497.6 1126.0,496.3 1126.2,494.9 1126.5,493.6 1127.5,493.0 1128.9,491.5 1130.6,489.1 1132.5,486.2 1134.5,484.1 1136.3,483.3 1137.8,483.6 1138.9,484.3 1140.1,485.3 1141.2,485.1 1142.6,485.5 1144.6,486.8 1147.1,487.1 1149.2,487.4 1151.1,486.8 1152.7,486.5 1153.4,487.6 1154.0,489.0 1154.5,490.8 1154.9,492.8 1156.0,493.8 1157.6,493.6 1158.3,494.8 1159.1,496.4 1160.0,498.2 1160.7,500.2 1161.5,502.3 1162.3,504.5 1163.1,506.7 1163.9,508.9 1164.6,510.9 1166.9,511.8 1168.6,510.8 1169.7,509.5 1170.3,510.1 1170.8,511.2 1171.4,512.4 1171.7,513.9 1172.0,515.4 1172.3,516.8 1172.6,518.2 1172.9,519.5 1173.3,520.8 1174.2,521.4 1175.2,521.9 1176.3,522.6 1177.4,523.6 1179.5,525.3 1181.4,528.2 1182.9,531.2 1183.5,533.5 1184.0,535.5 1184.4,537.3 1184.7,538.9 1185.1,540.4 1185.8,541.3 1186.7,542.8 1187.9,544.8 1190.4,545.2 1193.5,543.1 1195.0,542.8 1196.4,543.1 1197.6,544.2 1198.6,546.1 1199.3,548.5 1200.2,549.1 1201.2,548.6 1202.5,548.0 1204.9,550.5 1207.9,553.2 1208.7,551.8 1209.5,550.2 1210.2,548.3 1211.0,546.3 1211.6,544.1 1212.2,541.7 1213.5,538.7 1214.5,536.7 1215.2,535.7 1216.0,534.8 1216.9,533.3 1218.2,531.2 1219.5,529.6 1220.9,528.4 1222.4,528.0 1224.0,528.2 1225.8,529.2 1227.3,529.4 1228.5,528.3 1229.4,526.2 1229.7,524.1 1230.0,522.1 1230.3,520.1 1230.5,518.3 1230.7,516.4 1231.0,514.7 1231.2,513.0 1231.5,511.3 1231.8,509.7 1232.5,508.3 1233.3,506.8 1234.3,504.9 1235.3,502.8 1237.9,500.8 1240.4,500.3 1242.5,502.1 1243.4,502.4 1244.2,502.5 1244.8,501.9 1245.3,500.7 1245.9,499.2 1246.6,497.8 1247.4,496.8 1248.5,496.1 1249.9,495.3 1251.4,494.1 1253.9,491.9 1256.3,488.6 1256.9,489.5 1257.4,490.4 1257.8,491.6 1258.2,492.8 1258.6,494.3 1259.0,495.9 1259.3,497.7 1260.1,499.3 1260.9,500.5 1262.0,501.0 1263.6,501.4 1265.4,503.5 1267.4,506.3 1269.5,508.8 1270.5,510.4 1271.5,511.5 1272.4,512.1 1273.1,512.4 1274.2,511.1 1275.0,510.4 1275.7,510.8 1276.1,512.5 1276.7,514.2 1277.4,515.7 1278.1,516.9 1279.8,516.8 1281.8,517.1 1283.9,518.6 1286.4,521.7 1288.3,524.5 1289.5,525.0 1290.5,523.8 1291.4,523.6 1292.7,524.0 1294.5,524.3 1296.7,523.4 1299.3,521.3 1301.7,520.6 1303.4,522.3 1304.2,525.2 1304.8,528.0 1305.3,530.2 1305.9,531.8 1306.7,532.8 1307.9,534.0 1309.4,535.7 1311.2,537.6 1312.8,539.0 1314.4,539.6 1315.9,539.3 1317.2,538.5 1318.2,535.4 1319.0,532.9 1319.7,531.2 1320.5,531.4 1321.4,532.0 1322.6,531.8 1324.4,531.2 1326.8,532.9 1329.5,536.0 1331.8,538.6 1333.6,537.5 1334.7,534.6 1335.6,531.9 1336.2,530.1 1336.9,528.7 1337.9,527.3 1339.0,525.7 1341.9,523.8 1345.0,522.9 1347.2,525.0 1348.9,527.9 1350.0,529.4 1350.3,527.9 1350.6,526.2 1351.0,524.4 1351.3,522.5 1351.7,520.6 1352.6,518.9 1353.7,517.5 1355.0,516.2 1356.5,514.6 1358.0,512.4 1359.6,509.7 1361.0,506.8 1362.0,504.3 1362.8,502.1 1363.6,500.4 1364.2,499.3 1365.1,499.6 1366.0,500.0 1367.4,500.3 1369.6,500.0 1371.0,499.3 1372.5,498.9 1374.1,498.4 1375.6,497.2 1377.6,495.8 1379.1,493.1 1380.1,492.6 1380.8,493.7 1381.8,493.4 1383.1,493.0 1384.9,494.5 1387.0,496.1 1388.2,497.8 1389.4,499.9 1390.6,502.3 1391.6,504.8 1393.5,507.3 1394.8,507.5 1395.7,505.8 1396.5,505.6 1397.5,506.3 1398.8,507.6 1400.9,508.8 1403.2,509.0 1405.7,508.4 1407.9,509.7 1409.4,513.0 1410.1,516.2 1410.6,518.8 1411.2,520.6 1412.3,520.4 1413.9,520.2 1416.1,520.8 1419.2,520.2 1422.1,517.3 1423.2,517.1 1424.2,517.4 1424.9,518.6 1425.5,520.6 1426.2,522.9 1427.1,525.1 1428.2,526.5 1430.7,527.2 1433.9,529.2 1435.9,529.9 1437.7,529.7 1439.0,527.9 1440.2,525.3 1441.1,523.2 1442.1,523.0 1443.0,524.6 1444.0,526.2 1445.3,527.4 1446.7,528.3 1447.9,526.8 1449.1,525.5 1450.3,524.5 1451.4,523.9 1453.0,524.5 1454.2,525.2 1455.1,525.1 1455.8,523.5 1456.5,521.2 1457.3,518.7 1458.5,516.8 1460.0,515.5 1462.1,515.2 1464.5,514.1 1466.7,512.4 1468.5,511.6 1469.7,511.6 1470.6,512.7 1471.3,513.8 1471.7,513.2 1472.2,512.2 1472.7,510.9 1473.4,509.4 1475.0,508.6 1477.1,508.4 1479.3,508.5 1481.4,507.7 1483.2,505.6 1484.6,502.2 1485.6,499.7 1486.4,499.2 1487.4,500.0 1488.4,499.9 1489.7,499.2 1491.3,498.0 1493.2,497.0 1495.0,496.7 1497.6,499.2 1499.5,500.4 1500.8,498.7 1501.4,497.4 1502.1,496.7 1503.1,496.9 1504.3,497.9 1505.9,497.3 1507.7,496.2 1509.5,494.9 1511.3,493.8 1512.9,493.6 1514.5,495.1 1515.6,496.8 1516.4,497.1 1517.3,495.6 1518.7,494.6 1520.7,494.5 1523.2,495.0 1525.7,494.1 1528.0,492.0 1529.7,490.5 1530.7,492.4 1531.4,495.6 1532.1,499.2 1532.7,501.4 1533.3,503.2 1534.1,504.5 1535.1,505.7 1536.1,506.8 1537.3,508.1 1538.6,509.6 1539.8,511.2 1541.0,512.9 1542.2,514.4 1543.8,515.1 1545.0,514.6 1545.9,513.6 1546.7,512.3 1547.6,512.8 1548.9,514.5 1550.7,515.7 1553.0,516.2 1555.3,516.7 1557.5,518.4 1559.3,520.7 1560.5,522.4 1561.4,522.0 1562.2,520.3 1563.3,518.8 1564.5,517.3 1566.0,516.5 1567.7,515.7 1569.6,514.5 1571.4,512.9 1573.4,513.0 1574.9,514.6 1576.0,517.6 1576.8,520.5 1577.5,520.0 1578.5,518.2 1579.7,515.9 1581.3,513.8 1583.4,513.1 1585.6,512.6 1587.7,511.3 1589.3,509.0 1590.5,506.7 1591.1,505.0 1591.5,503.9 1592.0,503.5 1592.4,503.4 1593.0,503.5 1593.6,503.3 1595.3,504.1 1597.3,503.9 1599.7,503.8 1601.9,504.5 1604.1,504.5 1605.6,502.6 1606.6,498.9 1607.5,495.9 1608.7,495.0 1610.5,495.6 1611.7,494.8 1612.9,493.7 1614.2,492.3 1615.5,490.9 1616.8,489.6 1618.0,488.6 1619.5,489.1 1620.6,490.1 1621.5,490.3 1622.3,488.9 1623.2,485.8 1624.6,482.8 1626.0,483.1 1627.6,484.0 1629.4,485.1 1631.2,485.7 1633.6,484.6 1635.3,484.1 1636.5,486.0 1637.4,489.2 1638.1,491.7 1638.9,493.4 1639.9,494.3 1641.1,494.9 1643.6,494.7 1646.2,495.5 1648.5,495.8 1649.2,496.9 1649.8,497.7 1650.3,498.4 1650.8,499.0 1651.2,499.6 1651.5,500.3 1651.8,501.2 1652.5,501.8 1653.3,503.7 1654.3,506.3 1655.7,508.5 1656.8,510.3 1658.0,511.7 1659.2,513.0 1660.5,514.3 1661.7,515.8 1664.0,517.4 1665.7,518.7 1666.8,517.7 1667.8,514.9 1668.6,514.0 1669.7,514.2 1671.2,515.4 1672.9,516.9 1674.7,518.2 1677.3,517.3 1679.4,516.9 1680.9,518.2 1681.9,520.5 1682.8,521.5 1683.9,520.1 1685.6,517.8 1687.8,516.3 1690.5,516.0 1693.0,515.5 1695.1,513.9 1696.4,512.9 1696.8,511.6 1697.2,510.6 1697.5,510.0 1697.9,509.6 1698.3,509.2 1698.8,508.7 1700.5,509.4 1702.8,508.2 1705.4,506.8 1707.7,506.2 1709.5,505.6 1710.9,503.8 1711.9,500.7 1712.8,498.0 1713.8,497.2 1715.4,498.5 1717.5,499.9 1719.9,500.2 1722.4,499.9 1724.4,500.4 1726.0,501.7 1727.0,502.1 1727.9,500.4 1728.8,497.4 1730.0,494.5 1731.7,493.0 1733.8,492.7 1736.0,492.5 1738.0,491.7 1739.8,490.6 1741.1,490.2 1742.0,491.2 1742.8,492.9 1743.6,493.8 1744.4,495.0 1745.4,495.4 1746.6,495.4 1748.0,495.5 1749.5,495.9 1751.4,496.9 1753.2,498.1 1754.7,498.8 1755.9,498.9 1756.7,498.8 1757.6,498.3 1758.4,499.7 1759.6,502.5 1761.2,504.8 1763.3,505.4 1765.6,505.0 1767.9,504.8 1769.8,505.3 1770.6,506.8 1771.3,508.0 1771.8,508.7 1772.3,509.0 1772.7,508.9 1773.8,506.1 1775.3,505.5 1777.5,507.1 1780.2,508.7 1782.1,510.4 1783.9,511.8 1785.3,513.6 1786.4,516.2 1787.2,518.7 1787.8,520.7 1788.5,521.5 1789.4,521.0 1790.5,520.0 1792.4,518.1 1794.7,517.6 1797.1,518.0 1799.2,517.9 1800.7,517.7 1801.8,518.0 1802.6,519.5 1803.4,522.2 1804.3,524.9 1805.5,525.0 1807.1,523.8 1808.9,521.7 1810.9,519.8 1813.1,518.8 1815.0,518.1 1816.5,516.7 1817.4,514.3 1817.9,511.8 1818.3,509.7 1818.8,508.2 1819.3,507.2 1820.0,506.8 1821.6,508.2 1823.5,509.1 1825.7,508.7 1827.8,507.7 1829.6,506.9 1831.2,507.4 1832.3,507.6 1833.1,506.3 1834.0,503.6 1834.9,500.3 1836.2,497.9 1837.7,496.8 1839.5,496.6 1841.4,496.4 1843.3,497.7 1844.9,498.6 1846.2,499.6 1847.2,501.4 1847.9,503.8 1848.5,506.2 1849.3,507.6 1850.3,507.7 1851.6,506.7 1853.6,504.5 1856.0,503.5 1858.3,503.5 1860.2,503.5 1861.4,503.9 1862.3,504.2 1863.1,505.2 1863.7,507.5 1864.8,510.1 1866.3,512.3 1868.3,512.8 1870.6,511.8 1872.9,510.2 1874.9,509.3 1876.4,508.7 1877.5,507.2 1878.2,506.4 1878.9,505.5 1879.7,505.4 1880.9,506.8 1882.8,509.4 1885.0,512.0 1887.3,513.4 1889.5,513.9 1891.2,514.6 1892.3,516.1 1893.2,517.4 1894.0,517.2 1895.3,514.8 1897.2,512.5 1899.6,512.2 1901.7,514.5 1903.7,516.8 1905.4,518.5 1907.0,518.9 1908.0,520.2 1908.9,522.9 1909.7,525.6 1910.9,527.2 1912.3,527.3 1914.1,526.5 1916.7,524.1 1919.2,523.3 1921.2,522.9 1922.2,521.5 1923.0,519.7 1923.7,518.2 1924.4,517.8 1925.7,519.7 1927.5,522.0 1929.9,522.9 1932.4,521.9 1934.7,520.5 1935.5,518.9 1936.3,517.6 1936.9,516.3 1937.5,514.9 1937.9,513.4 1938.3,511.6 1938.7,509.4 1939.6,506.8 1940.9,504.8 1942.6,504.7 1944.8,506.3 1947.1,508.5 1949.3,509.6 1951.1,510.0 1952.4,510.6 1953.4,511.9 1954.3,512.9 1955.4,512.1 1957.1,509.4 1959.3,506.9 1961.6,506.7 1963.8,507.8 1965.7,509.0 1967.2,509.5 1968.2,509.9 1968.9,511.3 1969.9,514.1 1971.4,516.9 1973.4,517.7 1975.8,516.5 1978.2,515.0 1980.4,514.1 1982.1,514.0 1983.2,513.3 1984.0,511.8 1984.8,512.1 1985.9,513.7 1987.4,516.8 1989.4,519.7 1991.7,521.5 1993.9,521.7 1995.8,521.4 1997.2,521.4 1998.3,522.2 1999.2,522.2 2000.2,520.7 2001.6,518.5 2003.6,517.7 2006.0,519.2 2008.5,521.6 2010.7,523.3 2012.3,523.3 2013.4,523.6 2014.3,524.9 2015.3,526.1 2016.4,524.7 2017.9,522.0 2019.8,518.6 2021.8,515.6 2023.7,513.7 2025.8,514.3 2027.4,514.8 2028.5,514.6 2029.4,514.6 2030.4,516.0 2031.9,518.7 2033.9,520.6 2036.3,520.4 2038.8,519.1 2041.0,518.0 2042.6,518.0 2043.4,518.9 2044.0,519.3 2044.7,519.1 2045.5,518.9 2047.0,518.6 2049.0,520.5 2051.5,523.5 2053.9,525.4 2056.1,525.4 2057.7,524.9 2058.7,525.2 2059.6,525.6 2060.6,524.5 2062.1,521.8 2064.2,519.0 2065.7,516.9 2067.3,515.7 2068.8,515.1 2070.2,514.8 2072.1,515.4 2073.3,515.1 2074.2,514.9 2075.0,515.8 2076.1,517.1 2077.6,517.3 2079.6,515.6 2081.8,512.7 2084.3,510.5 2086.4,510.0 2087.9,510.4 2088.9,510.4 2089.8,509.9 2090.9,510.3 2092.4,512.5 2094.6,515.4 2097.0,516.8 2099.5,516.1 2101.5,514.5 2103.0,513.6 2104.1,513.5 2104.9,512.7 2106.0,510.7 2107.6,509.5 2109.7,512.2 2112.2,516.8 2114.6,516.5 2116.7,515.3 2118.1,514.8 2119.2,515.0 2120.0,516.0 2121.0,516.3 2122.5,515.2 2124.4,512.6 2126.7,510.3 2129.0,509.7 2131.1,510.8 2132.7,512.1 2133.8,512.6 2134.7,512.0 2135.6,512.2 2136.9,513.6 2138.0,516.1 2139.3,518.0 2140.8,519.0 2142.4,519.1 2144.1,518.4 2145.7,518.0 2147.0,518.4 2148.1,519.4 2148.9,520.7" fill="none" stroke="#263a62" stroke-width="4" stroke-linejoin="round" stroke-linecap="round" shape-rendering="crispEdges"/>
<polyline points="253.0,505.1 256.0,507.2 266.1,507.7 270.2,509.7 276.2,508.2 279.8,503.6 284.3,507.2 293.4,507.2 298.4,509.7 303.5,516.2 308.5,511.7 315.1,512.2 317.1,513.2 324.7,511.7 327.7,506.6 334.7,514.2 340.8,514.7 345.8,510.7 348.4,511.7 352.9,517.2 358.4,514.2 363.5,506.6 365.3,524.8 366.6,549.1 367.2,573.4 370.8,586.8 372.0,603.9 373.2,640.0 374.7,711.9 376.2,747.3 377.3,768.8 380.1,716.2 382.2,714.0 385.4,733.4 388.2,748.4 390.8,707.6 392.9,699.0 396.2,694.7 398.3,651.8 400.0,613.6 401.8,603.9 404.9,613.6 409.8,613.6 411.0,579.5 412.2,543.0 413.4,506.5 414.8,488.4 418.0,482.0 419.7,434.7 421.2,381.0 422.7,348.8 424.4,344.5 426.6,370.3 428.7,389.6 431.9,372.5 434.1,374.6 436.2,402.5 439.5,430.4 443.7,451.9 447.0,477.7 449.1,520.0 452.8,535.5 452.9,537.2 453.0,538.9 453.1,540.6 453.2,542.2 453.3,543.9 453.5,545.6 453.6,547.2 453.7,548.8 453.9,550.4 454.0,552.0 454.2,553.5 454.4,555.1 454.6,556.6 454.7,558.1 454.9,559.6 455.0,561.1 455.2,562.6 455.3,564.1 455.5,565.6 455.6,567.1 455.8,568.6 455.9,570.1 456.1,571.6 456.3,573.0 456.5,574.5 456.7,576.0 456.8,577.5 457.0,578.9 457.2,580.4 457.4,581.9 457.6,583.4 457.8,584.9 458.0,586.4 458.2,587.9 458.5,589.4 458.8,590.8 459.2,592.3 459.6,593.8 460.0,595.3 460.4,596.9 460.8,598.4 461.2,600.0 461.5,601.7 461.9,603.3 462.2,605.0 462.6,606.7 462.9,608.4 464.0,610.7 464.8,612.8 465.5,614.6 465.6,616.2 465.7,617.7 465.8,619.2 465.9,620.6 466.0,622.0 466.1,623.4 466.2,624.7 466.4,626.1 466.5,627.4 466.6,628.7 466.7,630.0 466.9,631.3 467.1,632.5 467.2,633.8 467.4,635.1 467.7,636.4 467.9,637.8 468.1,639.1 468.4,640.5 468.7,641.9 469.0,643.3 469.3,644.7 469.6,646.2 470.0,647.7 470.4,649.3 470.7,650.8 471.1,652.4 471.5,654.0 474.6,653.9 477.1,652.8 477.6,654.1 478.0,655.2 478.3,656.4 478.6,657.5 478.8,658.6 479.1,659.8 479.3,661.1 479.5,662.5 479.7,661.0 479.8,659.5 480.0,658.1 480.1,656.7 480.3,655.4 480.6,654.1 480.8,652.8 481.1,651.5 481.3,650.2 481.7,649.0 482.0,647.8 482.3,646.5 482.7,645.2 483.1,643.9 483.5,642.6 484.0,641.3 484.4,639.9 485.7,638.7 487.0,637.2 488.2,635.5 489.3,633.7 490.3,631.9 491.0,630.3 491.2,628.8 491.5,627.2 491.6,625.7 491.8,624.3 492.0,622.9 492.1,621.5 492.3,620.1 492.4,618.7 492.5,617.4 492.7,616.0 492.8,614.6 492.9,613.3 493.1,611.8 493.2,610.4 493.3,608.9 493.4,607.4 493.5,605.9 493.6,604.4 493.7,602.9 493.8,601.3 493.9,599.8 494.0,598.2 494.1,596.7 494.3,595.1 494.4,593.5 494.6,591.9 494.7,590.3 494.9,588.7 495.0,587.1 495.2,585.5 495.4,583.9 495.5,582.2 495.7,580.6 495.9,578.9 497.3,576.5 498.8,574.0 500.4,572.0 501.8,570.4 502.1,568.8 502.4,567.3 502.7,565.8 502.9,564.3 503.2,562.9 503.4,561.4 503.6,560.0 503.8,558.6 504.0,557.2 504.2,555.8 504.3,554.4 504.5,552.9 504.6,551.5 504.8,550.1 504.9,548.6 504.9,547.1 505.0,545.7 505.1,544.2 505.2,542.7 505.2,541.2 505.3,539.6 505.4,538.1 505.4,536.6 505.5,535.0 505.5,533.5 505.6,531.9 505.7,530.4 505.7,528.8 505.8,527.3 505.8,525.7 505.9,524.2 505.9,522.6 505.9,521.1 506.0,519.5 506.0,518.0 506.1,516.4 506.1,514.9 506.2,513.3 506.2,511.7 506.3,510.2 506.3,508.6 506.4,507.0 506.4,505.5 506.5,503.9 506.6,502.3 506.6,500.7 506.7,499.2 506.8,497.6 506.8,496.0 507.3,494.1 507.9,492.3 508.7,490.6 509.5,489.0 510.4,487.7 510.7,486.2 511.0,484.7 511.3,483.3 511.7,481.9 512.0,480.5 512.3,479.1 512.7,477.7 513.0,476.3 513.3,474.9 513.7,473.5 514.0,472.1 514.3,470.7 514.6,469.3 514.9,467.8 515.2,466.5 515.4,465.1 515.7,463.6 515.9,462.2 516.2,460.8 516.4,459.3 516.6,457.8 516.8,456.3 517.0,454.7 517.2,453.2 517.3,451.6 517.5,450.0 517.6,448.4 517.8,446.7 517.9,445.1 518.0,443.4 518.1,441.8 518.2,440.1 518.3,438.4 518.4,436.7 518.7,434.8 518.9,432.8 519.2,431.0 519.5,429.3 519.9,427.8 520.3,426.4 520.8,425.1 521.3,423.8 521.9,422.6 522.6,421.3 523.3,420.1 524.0,418.7 524.8,417.3 525.6,415.8 526.3,414.2 527.4,412.4 528.3,410.5 529.1,408.5 529.9,406.6 530.5,404.8 531.0,403.1 531.7,404.7 532.2,406.9 532.9,409.4 533.9,411.4 535.5,410.2 537.4,408.1 539.5,405.8 540.0,407.2 540.4,408.6 540.8,410.1 541.2,411.6 541.6,413.1 541.9,414.7 542.3,416.3 542.6,417.9 542.9,419.5 543.2,421.1 543.4,422.8 543.6,424.4 543.8,426.1 544.0,427.7 544.2,429.4 544.3,431.0 544.5,432.7 544.6,434.3 544.8,435.9 544.9,437.5 545.0,439.1 545.1,440.6 545.5,441.7 546.1,442.4 546.8,442.9 547.7,443.3 549.0,444.0 549.3,445.4 549.7,446.9 550.1,448.3 550.6,449.9 551.0,451.4 551.4,453.1 551.9,454.7 552.3,456.4 552.7,458.1 553.1,459.8 553.5,461.5 554.0,463.3 554.2,464.9 554.3,466.6 554.5,468.3 554.7,470.0 554.9,471.6 555.1,473.3 555.3,475.0 555.4,476.6 555.6,478.3 555.8,479.9 555.9,481.6 556.1,483.2 556.2,484.8 556.3,486.4 556.5,488.0 556.6,489.6 556.7,491.2 556.8,492.8 557.5,494.1 558.1,495.1 558.5,496.0 558.9,496.9 559.6,498.2 559.7,499.7 559.9,501.3 560.1,502.9 560.3,504.5 560.5,506.1 560.8,507.7 561.0,509.4 561.3,511.0 561.6,512.7 561.9,514.4 562.2,516.0 562.4,517.7 562.6,519.4 562.9,521.1 563.1,522.8 563.4,524.5 563.6,526.1 563.9,527.8 564.1,529.4 564.4,531.1 564.6,532.7 564.9,534.3 565.1,535.9 565.4,537.5 565.7,539.1 565.9,540.7 566.2,542.2 566.4,543.7 566.7,545.3 566.9,546.8 567.2,548.3 568.5,548.9 569.6,549.3 570.4,549.7 571.0,550.4 571.5,551.5 571.6,553.2 571.8,554.9 571.9,556.7 572.1,558.5 572.3,560.4 572.5,562.2 572.8,564.1 573.0,565.8 573.3,567.4 573.5,569.1 573.9,570.7 574.2,572.3 574.6,573.8 575.0,575.3 575.4,576.8 575.8,578.2 576.3,579.6 576.8,581.0 577.3,582.3 577.7,583.7 579.3,584.4 580.7,585.4 582.0,586.7 583.0,588.6 583.8,590.7 584.1,592.7 584.3,594.7 584.6,596.6 584.8,598.4 585.0,600.2 585.2,601.8 585.5,603.3 585.8,604.6 586.2,605.9 586.6,607.1 587.6,605.2 588.9,603.4 590.4,601.8 591.9,600.7 593.4,599.9 594.7,601.6 595.8,603.2 596.7,604.5 597.3,605.4 597.8,605.9 598.2,606.3 598.4,604.5 598.5,602.7 598.7,600.9 599.0,599.1 599.2,597.5 599.5,595.9 599.8,594.3 600.2,592.8 600.5,591.4 600.9,590.1 601.4,588.8 601.9,587.5 602.4,586.3 602.9,585.0 603.4,583.8 604.0,582.6 606.2,582.4 608.1,581.4 609.6,579.8 609.9,578.1 610.2,576.4 610.4,574.7 610.6,573.1 610.8,571.6 611.0,570.1 611.2,568.7 611.4,567.4 611.6,566.1 611.8,564.8 611.9,563.4 612.0,561.9 612.0,560.5 612.1,559.1 612.2,557.6 612.3,556.2 612.5,554.8 612.6,553.3 612.7,551.9 612.8,550.4 613.0,549.0 613.1,547.5 613.3,546.0 613.4,544.6 613.6,543.1 613.7,541.6 615.9,540.4 618.5,537.9 620.9,535.3 621.3,533.5 621.6,531.7 621.9,529.9 622.2,528.2 622.4,526.5 622.7,524.9 622.9,523.3 623.1,521.7 623.3,520.1 623.4,518.7 623.6,517.3 623.7,515.8 623.8,514.4 623.9,513.0 624.0,511.7 624.1,510.3 624.2,508.9 624.3,507.5 624.4,506.1 624.5,504.7 624.6,503.2 624.7,501.8 624.8,500.3 624.9,498.9 625.4,497.3 626.1,495.4 626.9,493.4 627.9,491.3 628.4,489.6 628.9,488.0 629.5,486.5 630.0,484.9 630.6,483.5 631.2,482.1 631.8,480.8 632.3,479.5 632.9,478.3 633.4,477.1 634.0,475.9 634.4,474.7 634.9,473.6 635.3,472.4 635.7,471.2 636.0,470.0 636.3,468.7 636.6,467.3 636.8,465.8 637.0,464.3 637.2,462.7 637.4,461.0 638.0,459.0 638.8,456.8 640.1,455.2 640.7,453.8 641.4,452.4 642.1,451.1 642.9,449.9 643.7,448.7 644.5,447.5 645.3,446.2 646.1,444.9 647.2,443.4 648.2,441.6 649.0,439.7 649.7,437.6 650.3,438.0 650.7,438.8 651.1,440.0 651.7,441.7 652.4,443.8 653.9,444.2 655.9,444.1 658.1,443.1 659.0,444.3 659.8,445.5 660.6,446.7 661.3,448.0 661.9,449.4 662.5,450.9 662.9,452.5 663.2,454.2 663.5,455.9 663.8,457.6 664.1,459.4 664.3,461.1 664.6,462.6 665.0,464.1 666.2,464.5 667.8,464.4 669.9,464.3 670.4,465.6 671.0,466.9 671.5,468.3 672.0,469.8 672.6,471.4 673.1,473.0 673.5,474.6 674.0,476.4 674.4,478.1 674.8,479.9 675.1,481.7 675.5,483.4 675.8,485.2 676.0,487.0 676.9,488.6 677.7,489.2 678.8,489.5 679.1,491.0 679.5,492.4 679.9,494.0 680.3,495.5 680.7,497.2 681.2,498.9 681.7,500.6 682.2,502.3 682.7,504.1 683.2,505.9 683.8,507.8 684.3,509.6 684.9,511.4 685.6,513.2 686.2,515.0 686.7,516.6 687.2,518.2 687.7,519.7 688.2,521.1 688.6,522.5 688.9,523.7 689.2,524.9 689.5,526.1 689.7,527.2 690.3,527.4 690.9,528.1 691.7,529.5 692.8,531.3 693.2,533.0 693.7,534.6 694.2,536.3 694.7,537.9 695.3,539.4 695.9,540.9 696.4,542.3 697.0,543.7 697.6,545.0 698.2,546.3 698.7,547.6 700.4,548.0 701.7,548.6 702.7,549.9 703.3,551.9 703.5,553.9 703.7,555.8 704.0,557.7 704.2,559.6 704.6,561.5 704.9,563.2 705.4,564.7 705.9,566.2 707.7,564.8 709.9,563.1 712.2,561.8 714.1,561.3 715.0,563.1 715.7,564.9 716.3,566.5 716.7,567.6 717.1,568.4 717.6,568.9 718.3,569.3 718.8,567.4 719.2,565.5 719.8,563.7 720.3,562.0 721.0,560.4 721.6,558.9 722.3,557.5 723.1,556.2 723.8,555.0 725.9,555.3 727.7,555.2 728.9,554.3 729.7,552.8 729.9,551.1 730.0,549.4 730.2,547.8 730.4,546.2 730.6,544.7 730.8,543.3 731.0,541.9 731.3,540.5 731.6,539.2 732.0,538.0 732.4,536.8 732.8,535.6 733.3,534.3 735.0,533.9 736.9,532.9 738.7,531.1 740.4,528.8 740.8,526.9 741.1,525.1 741.5,523.4 741.8,521.6 742.0,519.9 742.3,518.3 742.5,516.7 742.7,515.2 742.8,513.8 743.0,512.3 743.1,510.9 743.2,509.5 743.3,508.1 743.4,506.7 743.5,505.3 743.6,503.9 743.8,502.6 743.9,501.2 744.1,499.8 744.3,498.4 744.4,497.0 744.6,495.5 745.6,494.3 746.9,492.7 748.3,490.8 749.9,488.8 751.4,487.1 751.8,485.6 752.3,484.1 752.7,482.6 753.1,481.2 753.4,479.9 753.8,478.5 754.1,477.3 754.4,476.0 754.7,474.8 754.9,473.6 755.1,472.4 755.7,471.8 756.1,471.2 756.4,470.2 756.8,468.9 757.3,467.3 757.7,465.6 758.2,463.8 758.8,462.0 759.5,460.2 760.2,458.5 761.1,457.0 762.0,455.6 763.7,454.8 765.3,454.2 766.8,453.6 768.3,452.3 769.2,450.0 769.9,447.5 770.6,448.5 771.5,450.0 772.7,452.1 774.7,452.5 776.8,452.5 778.8,451.8 779.9,453.0 780.8,454.2 781.5,455.4 782.0,456.7 782.4,458.4 783.0,459.8 783.7,461.6 784.8,463.1 785.9,464.5 787.2,465.3 788.6,465.9 790.1,466.2 790.8,467.4 791.4,468.6 792.0,469.9 792.6,471.3 793.1,472.7 793.6,474.2 794.0,475.9 794.4,477.6 794.7,479.3 795.3,481.2 795.8,483.0 796.2,484.6 796.7,485.8 797.4,486.8 798.3,487.5 799.5,488.3 800.8,489.5 801.6,491.0 802.3,492.6 803.1,494.3 803.8,496.1 804.6,498.0 805.3,499.9 805.9,501.8 806.5,503.7 807.3,505.8 807.9,507.7 808.4,509.2 808.8,510.4 809.1,511.4 809.5,512.3 809.9,513.3 810.4,514.4 811.0,515.8 811.9,517.4 812.4,519.0 813.0,520.7 813.6,522.5 814.2,524.2 814.9,525.9 815.6,527.6 816.9,529.4 818.2,531.0 819.3,532.2 821.2,531.3 822.2,531.2 822.5,533.0 822.9,535.0 823.4,537.2 824.0,539.5 824.7,541.7 825.8,543.9 827.0,545.8 828.3,547.4 830.3,545.9 832.1,544.4 833.6,543.5 834.6,544.8 835.2,546.5 835.8,547.8 836.5,548.5 837.6,546.2 839.1,543.4 841.0,540.8 843.0,539.2 844.9,538.4 846.4,537.9 847.9,539.4 848.8,539.6 849.1,537.8 849.4,536.0 849.7,534.2 850.1,532.6 850.5,531.0 850.8,529.4 851.2,527.9 851.5,526.4 851.9,524.9 852.4,523.5 852.8,522.2 853.3,520.8 853.8,519.5 855.7,519.4 857.7,518.7 859.3,517.3 860.1,515.3 860.7,513.2 861.2,510.9 861.6,508.8 861.9,506.9 862.1,505.3 862.2,503.8 862.4,502.4 862.6,501.0 862.9,499.6 863.1,498.3 863.4,497.0 864.7,496.3 866.4,495.2 868.4,493.4 871.0,491.3 873.1,489.7 874.4,489.5 874.6,488.1 874.7,486.8 874.9,485.5 875.1,484.2 875.2,482.9 875.4,481.6 875.6,480.2 875.9,479.0 876.4,477.6 876.9,476.0 877.5,474.2 879.2,472.7 881.1,471.2 883.1,470.1 884.1,468.6 885.0,467.3 885.7,466.0 886.4,464.8 887.4,464.4 888.1,463.4 888.6,461.6 889.8,459.2 891.9,457.8 893.3,456.6 894.9,455.6 896.4,454.8 897.8,453.8 898.8,452.7 899.7,451.3 900.4,449.7 900.9,451.0 901.3,452.4 901.6,454.0 902.3,455.2 903.3,457.0 904.7,459.0 906.6,460.4 908.6,461.0 910.5,460.9 911.5,461.4 912.4,462.1 913.1,462.9 913.6,463.9 914.1,465.2 914.5,467.2 914.9,469.3 915.3,471.4 916.8,471.5 919.3,470.4 920.3,471.6 921.3,472.9 922.3,474.4 923.3,476.1 923.7,477.7 924.0,479.4 924.4,481.1 924.8,482.9 925.1,484.7 925.4,486.5 925.7,488.4 925.9,490.2 926.2,492.1 926.8,494.7 927.3,497.0 927.7,499.1 928.0,500.6 928.4,501.9 928.9,502.9 929.5,504.0 930.3,505.1 931.4,506.5 932.6,508.3 934.0,510.3 934.5,512.0 935.0,513.8 935.5,515.6 936.0,517.3 936.5,519.1 936.9,520.8 937.4,522.5 937.8,524.2 938.7,525.8 939.5,527.1 940.1,528.1 940.5,528.9 940.8,529.8 941.2,530.7 941.5,532.0 942.0,533.5 942.3,535.2 942.6,536.9 943.0,538.7 943.4,540.5 943.8,542.4 944.3,544.2 944.8,546.1 945.4,548.0 945.9,549.8 946.5,551.6 949.5,552.5 951.9,552.4 953.4,552.9 954.3,554.7 954.8,557.0 955.6,559.0 956.6,560.5 957.0,558.9 957.4,557.3 957.8,555.6 958.3,553.9 958.8,552.1 959.2,550.3 959.7,548.5 960.2,546.7 960.7,544.8 961.2,543.1 963.8,541.5 965.6,541.3 966.7,541.7 967.2,540.8 967.6,539.4 968.1,537.8 968.8,536.0 969.3,534.1 969.8,532.3 970.4,530.5 971.0,528.8 971.7,527.3 972.4,525.8 973.2,524.5 973.9,523.3 975.1,522.7 976.3,522.2 977.3,521.7 978.2,521.0 978.9,519.9 979.3,518.4 979.6,516.8 979.9,515.1 980.2,513.2 980.4,511.3 980.6,509.5 980.9,507.6 981.2,505.8 981.5,504.1 981.9,502.5 982.4,501.0 983.0,499.6 985.3,499.4 988.0,498.5 990.4,496.6 991.1,494.5 991.8,492.4 992.3,490.4 992.7,488.5 993.0,486.9 993.3,485.4 993.7,484.3 994.0,483.3 994.5,482.6 995.1,481.8 995.8,480.8 997.9,480.4 1000.6,479.0 1003.1,477.7 1004.2,476.5 1005.2,475.7 1005.8,475.0 1006.3,474.3 1006.8,473.1 1007.2,471.3 1007.8,469.1 1008.6,466.5 1010.5,464.1 1012.9,462.5 1015.3,462.1 1017.3,462.3 1018.2,464.2 1018.9,465.8 1019.4,467.1 1019.8,468.2 1020.2,469.2 1020.6,470.3 1021.2,471.7 1022.0,473.5 1022.9,475.5 1025.4,477.1 1028.1,478.1 1030.5,477.5 1031.2,478.2 1031.8,478.8 1032.3,479.5 1032.7,480.3 1033.0,481.8 1033.3,483.4 1033.6,485.2 1034.0,487.0 1034.4,488.9 1035.2,490.6 1036.2,492.1 1037.3,493.3 1038.6,494.2 1039.9,495.0 1040.8,496.0 1041.8,497.0 1042.6,498.1 1043.4,499.4 1044.0,500.9 1045.2,502.8 1045.9,505.3 1046.5,507.7 1047.9,508.3 1050.4,507.5 1051.2,508.9 1052.0,510.4 1052.8,511.9 1053.7,513.6 1054.3,515.2 1054.9,516.8 1055.5,518.5 1056.0,520.2 1056.6,521.9 1057.4,523.6 1058.1,525.0 1058.6,526.2 1059.0,527.0 1059.5,526.5 1060.2,525.8 1061.3,525.5 1062.8,526.2 1065.1,527.5 1067.5,529.1 1069.6,530.1 1071.1,530.3 1071.8,531.3 1072.3,532.5 1072.8,534.3 1073.4,536.5 1073.9,538.8 1074.5,541.0 1075.3,543.2 1076.2,545.2 1077.2,546.9 1078.3,548.3 1079.9,546.3 1081.5,543.9 1082.8,541.6 1083.9,539.5 1085.2,538.8 1086.2,538.8 1086.7,537.3 1087.4,535.5 1088.3,533.6 1089.3,531.5 1090.5,529.5 1092.7,528.1 1094.8,527.7 1096.5,528.1 1098.1,530.9 1099.0,531.8 1099.3,530.1 1099.5,528.4 1099.8,526.6 1100.1,524.9 1100.5,523.2 1100.9,521.5 1101.4,519.9 1102.7,518.4 1104.3,517.4 1106.0,516.4 1108.3,515.7 1110.1,514.0 1111.2,511.4 1111.9,509.1 1112.6,507.3 1113.6,506.5 1115.1,506.3 1117.0,506.5 1119.0,506.1 1120.9,505.2 1122.6,504.1 1123.4,502.5 1124.0,501.2 1124.4,500.0 1124.8,499.1 1125.0,498.0 1125.2,497.0 1125.4,495.9 1125.6,494.7 1125.8,493.5 1126.8,492.7 1128.2,490.9 1130.0,488.5 1132.0,485.9 1134.0,484.2 1135.7,483.2 1136.9,482.8 1137.7,482.4 1138.6,482.0 1140.1,480.9 1142.2,480.7 1144.9,482.0 1147.5,483.9 1149.2,486.3 1150.3,487.7 1151.1,488.2 1151.4,489.3 1151.8,490.4 1152.2,491.7 1152.8,493.2 1155.0,494.1 1158.2,494.3 1159.2,495.2 1160.3,495.9 1161.2,496.6 1161.9,497.4 1162.4,498.2 1162.9,499.2 1163.3,500.3 1163.7,501.5 1164.0,503.0 1164.7,504.4 1165.7,506.5 1167.4,508.0 1168.8,509.2 1170.4,510.0 1172.1,510.9 1172.6,512.5 1173.1,514.1 1173.6,515.7 1174.1,517.4 1174.6,519.1 1175.0,520.9 1175.8,522.7 1176.4,524.6 1176.9,526.5 1177.3,528.2 1177.9,529.0 1178.7,528.9 1179.9,528.1 1180.6,529.0 1181.4,530.0 1182.4,531.3 1183.3,532.7 1184.3,534.3 1186.5,536.1 1188.2,538.1 1189.5,539.7 1190.7,539.7 1191.7,540.1 1192.5,542.0 1193.6,544.4 1195.0,547.0 1196.6,549.5 1198.3,551.4 1200.7,550.5 1202.5,548.4 1203.6,546.5 1204.5,547.0 1206.1,547.9 1206.7,546.2 1207.3,544.5 1208.1,542.6 1208.8,540.6 1209.7,538.6 1210.5,536.5 1212.6,534.3 1214.4,533.1 1215.8,533.0 1216.6,533.2 1217.2,533.4 1218.0,532.8 1218.7,531.5 1219.8,530.0 1221.2,528.4 1222.7,527.1 1224.7,526.5 1226.6,526.2 1228.1,525.6 1229.2,524.3 1229.5,522.3 1229.8,520.2 1230.0,518.0 1230.3,515.7 1230.5,513.5 1230.6,511.2 1230.9,509.0 1231.1,506.8 1231.4,504.7 1232.0,502.9 1232.9,501.4 1233.8,500.3 1235.0,499.4 1237.6,500.4 1240.1,500.8 1241.9,500.6 1242.7,499.2 1243.2,498.3 1243.6,497.8 1244.2,497.7 1244.9,497.7 1246.0,497.4 1247.3,496.6 1248.8,495.1 1250.5,493.0 1252.1,490.6 1254.3,488.5 1255.7,487.5 1256.0,489.0 1256.2,490.5 1256.4,492.1 1256.6,493.6 1256.8,495.1 1257.0,496.5 1257.2,497.8 1258.4,497.1 1260.2,496.1 1262.5,495.9 1265.0,497.0 1266.8,499.8 1268.2,502.7 1269.1,504.9 1269.5,506.4 1269.8,507.7 1270.2,508.8 1270.6,509.8 1271.8,510.2 1273.4,511.1 1275.5,512.2 1276.8,514.0 1278.0,515.5 1279.1,516.7 1280.1,517.6 1281.5,516.6 1282.4,515.4 1283.0,515.0 1284.0,515.4 1285.7,517.1 1288.2,518.5 1291.0,519.0 1293.1,519.5 1294.7,520.8 1295.6,522.9 1296.3,525.0 1297.4,525.8 1299.2,524.8 1301.7,522.9 1303.3,523.2 1304.9,523.9 1306.3,525.1 1307.4,526.5 1308.4,527.7 1309.0,528.4 1309.6,528.8 1310.4,529.1 1311.3,529.9 1312.5,531.4 1314.0,533.5 1315.7,536.0 1317.3,536.1 1318.7,535.9 1320.0,535.1 1321.3,534.5 1322.2,533.1 1322.9,531.9 1323.9,531.4 1325.9,532.3 1328.4,532.3 1331.2,531.0 1333.3,528.2 1334.7,526.8 1335.6,527.1 1336.1,526.9 1336.7,526.6 1337.6,526.0 1338.7,525.1 1341.8,524.6 1344.9,524.8 1347.0,526.3 1348.2,527.4 1349.0,526.9 1349.3,524.8 1349.6,522.6 1350.1,520.2 1350.6,517.9 1351.2,515.6 1352.5,513.2 1354.1,511.2 1355.7,509.9 1357.3,508.8 1358.8,507.8 1359.9,506.5 1360.8,505.0 1361.3,503.1 1361.7,501.2 1362.0,499.5 1362.4,498.0 1363.4,497.6 1365.0,498.2 1368.0,500.1 1371.2,499.7 1372.5,497.6 1373.6,495.5 1374.3,493.5 1374.9,491.8 1375.6,491.8 1376.6,491.7 1378.1,492.4 1380.3,492.3 1382.8,489.6 1385.1,488.2 1386.7,490.9 1387.8,494.3 1388.1,496.6 1388.5,498.6 1388.9,500.3 1389.3,501.8 1390.9,502.0 1393.1,502.5 1395.8,503.8 1397.9,506.1 1399.5,507.7 1400.6,508.2 1401.4,507.6 1402.2,507.0 1403.4,506.6 1405.5,507.7 1408.1,509.3 1409.7,510.9 1411.2,512.3 1412.5,513.5 1413.9,513.9 1414.7,515.5 1415.6,518.1 1417.4,519.8 1420.3,519.1 1422.0,519.5 1423.6,519.9 1425.0,520.5 1426.1,521.5 1427.1,522.1 1427.8,522.8 1428.5,523.0 1430.1,521.7 1432.8,520.9 1435.0,520.7 1437.1,521.5 1438.8,522.8 1440.2,524.6 1441.1,525.0 1441.9,524.7 1442.7,525.9 1443.7,527.3 1445.1,528.9 1446.6,530.5 1447.8,529.3 1449.1,527.8 1450.3,526.0 1451.3,523.9 1452.7,520.8 1453.6,517.7 1454.2,515.3 1454.8,513.9 1455.6,513.5 1456.9,513.5 1458.6,513.1 1460.6,512.2 1463.0,512.1 1465.0,512.5 1466.4,513.9 1467.3,515.8 1467.9,515.9 1468.7,514.9 1470.0,512.8 1471.0,510.5 1472.0,508.3 1473.2,506.1 1474.4,504.2 1476.6,503.2 1478.5,502.9 1479.7,502.4 1480.5,501.3 1481.2,499.8 1482.1,498.4 1483.7,498.2 1485.9,499.3 1488.4,500.7 1490.2,500.7 1491.7,499.8 1492.8,498.2 1493.5,496.4 1494.1,494.8 1495.1,495.3 1497.0,495.9 1499.7,495.1 1501.7,494.3 1503.6,493.4 1505.1,493.0 1506.1,493.6 1506.8,493.5 1507.4,493.8 1508.0,494.1 1509.0,493.9 1510.5,493.2 1512.7,492.4 1515.2,492.2 1517.3,492.8 1518.9,493.4 1520.0,494.5 1520.8,493.7 1521.9,492.1 1523.8,490.5 1526.4,490.2 1529.0,490.6 1530.9,491.9 1532.2,492.8 1533.0,493.5 1533.4,494.6 1533.8,496.1 1534.2,497.9 1534.8,500.1 1535.5,502.5 1536.4,505.0 1537.5,507.3 1538.7,509.4 1540.0,511.0 1541.4,512.2 1543.3,512.9 1544.9,513.4 1545.9,514.2 1546.7,514.5 1547.4,514.8 1548.6,514.3 1550.5,512.9 1552.8,511.3 1555.3,510.7 1557.4,511.7 1558.8,513.6 1559.7,515.8 1560.4,517.0 1561.4,517.6 1563.0,518.2 1564.8,517.9 1566.7,518.0 1568.6,518.0 1570.3,517.5 1571.5,516.0 1572.6,514.7 1573.3,513.0 1574.1,512.2 1575.5,512.6 1577.1,511.8 1579.1,511.0 1581.1,509.7 1582.9,508.0 1584.6,507.4 1585.6,507.5 1586.3,508.7 1587.0,510.3 1588.1,511.4 1589.0,510.4 1590.1,509.1 1591.4,507.3 1592.7,505.3 1594.1,503.3 1595.3,501.4 1597.3,500.6 1598.6,500.3 1599.4,499.8 1600.1,498.5 1601.4,495.8 1603.5,493.9 1606.1,493.7 1608.7,495.2 1610.8,496.7 1612.0,497.0 1612.4,495.6 1612.8,494.0 1613.3,492.5 1613.8,491.2 1614.5,490.0 1615.5,489.1 1617.3,488.7 1619.5,487.8 1621.6,485.8 1623.6,482.7 1624.9,479.5 1625.7,477.4 1626.2,478.5 1626.9,480.2 1627.9,482.0 1629.3,483.5 1631.9,483.6 1634.7,483.7 1637.0,485.0 1638.4,487.3 1638.9,489.7 1639.3,491.5 1639.9,492.7 1640.6,493.2 1642.6,492.0 1645.2,491.2 1647.9,491.5 1648.7,493.0 1649.4,494.5 1650.1,496.0 1650.7,497.4 1651.1,498.7 1651.5,499.8 1651.8,500.9 1652.4,500.6 1653.0,500.6 1654.0,501.5 1655.4,503.3 1656.6,505.7 1657.8,508.1 1659.1,510.5 1660.4,512.6 1661.6,514.4 1663.7,514.7 1665.0,514.3 1665.8,514.6 1667.0,515.4 1668.2,516.3 1669.9,516.4 1671.8,515.8 1673.7,514.9 1675.5,514.2 1677.3,512.9 1678.3,513.3 1679.1,514.0 1680.2,514.5 1682.0,514.3 1684.5,514.3 1687.1,515.4 1689.3,517.0 1690.9,518.2 1691.8,517.4 1692.7,515.2 1694.2,513.3 1695.0,511.3 1696.0,509.5 1697.0,508.0 1698.1,506.5 1699.2,505.0 1700.2,503.4 1702.6,502.2 1704.1,500.5 1705.0,499.5 1705.7,499.8 1706.9,501.2 1708.7,502.4 1711.0,502.6 1713.6,501.8 1715.7,500.4 1717.2,499.6 1718.1,499.4 1718.9,498.9 1720.1,497.3 1722.0,494.8 1724.5,492.6 1727.1,491.9 1729.2,492.7 1730.4,493.6 1731.2,494.0 1731.9,493.6 1732.8,492.9 1734.2,492.5 1736.2,492.7 1738.4,493.3 1740.7,493.3 1742.4,492.2 1743.7,489.8 1744.4,487.1 1744.9,487.1 1745.4,487.6 1746.2,488.6 1747.2,490.0 1748.5,491.5 1750.4,492.9 1752.3,493.9 1754.2,494.6 1755.6,495.7 1756.7,497.4 1757.6,499.3 1758.3,501.7 1759.3,503.6 1760.9,504.0 1763.1,503.0 1765.6,501.8 1767.8,501.2 1769.4,501.2 1770.1,502.5 1770.5,503.6 1770.9,504.4 1771.3,504.9 1771.7,505.3 1773.2,503.4 1775.5,502.9 1778.3,504.4 1781.0,506.7 1782.4,509.1 1783.4,510.7 1784.0,512.0 1784.6,513.2 1785.3,514.7 1786.4,516.5 1787.9,518.3 1789.8,519.6 1791.8,520.0 1794.0,518.1 1795.8,515.9 1796.8,514.5 1797.6,514.5 1798.3,515.6 1799.5,516.6 1801.3,517.1 1803.5,517.3 1805.7,517.8 1807.5,517.8 1808.9,518.6 1809.9,519.5 1810.5,519.9 1811.2,519.5 1812.4,517.8 1814.1,515.7 1816.4,514.2 1817.8,512.6 1819.0,511.1 1820.2,509.6 1821.2,508.0 1822.1,506.3 1823.1,504.3 1823.8,502.1 1824.5,500.5 1825.6,500.0 1827.2,500.8 1829.4,502.6 1831.9,503.9 1834.1,503.9 1835.6,503.3 1836.4,501.9 1837.0,500.9 1837.6,500.1 1838.4,499.3 1839.6,497.8 1841.4,497.5 1843.4,496.5 1845.4,495.5 1847.2,495.1 1848.5,495.8 1849.4,497.3 1850.0,499.0 1850.6,500.6 1851.3,501.7 1852.8,501.6 1854.9,501.9 1857.3,503.0 1859.7,504.8 1861.2,507.2 1862.3,508.7 1863.1,509.1 1863.6,508.7 1864.5,506.9 1866.0,505.9 1868.1,505.8 1870.5,505.8 1872.8,504.8 1874.6,503.2 1875.8,501.8 1876.6,501.6 1877.2,503.7 1878.1,506.3 1879.4,508.8 1881.1,510.6 1883.5,511.1 1885.9,510.9 1887.7,511.0 1888.9,511.7 1889.7,512.5 1890.5,512.6 1891.6,511.6 1893.4,510.0 1896.1,508.7 1898.8,509.3 1900.9,511.1 1902.0,513.8 1902.7,515.8 1903.4,517.2 1904.5,517.7 1906.3,519.1 1908.9,521.2 1910.9,523.2 1912.8,524.3 1914.3,524.3 1915.3,523.6 1916.1,521.2 1917.0,520.0 1918.5,519.9 1920.1,519.3 1922.1,518.3 1924.1,516.9 1925.9,515.5 1927.7,515.4 1928.8,516.8 1929.6,518.7 1930.6,519.9 1932.2,519.5 1933.1,517.8 1934.2,515.9 1935.4,514.0 1936.6,512.2 1937.7,510.6 1938.8,509.2 1939.7,507.9 1941.3,507.7 1942.2,506.8 1942.9,505.0 1943.8,502.8 1945.3,502.1 1947.5,502.8 1949.9,504.7 1952.2,506.7 1954.1,507.6 1955.2,507.6 1955.9,507.7 1956.9,508.6 1958.4,509.8 1960.5,510.8 1962.9,510.5 1965.2,509.0 1967.0,507.4 1968.2,506.7 1968.9,507.2 1969.7,508.3 1971.1,509.1 1973.1,509.3 1975.7,509.5 1978.2,510.9 1980.2,512.9 1981.4,515.1 1982.2,516.0 1983.1,515.3 1984.2,515.2 1985.9,515.2 1987.9,515.9 1990.3,516.2 1992.4,516.3 1993.9,515.7 1994.8,514.4 1995.5,513.5 1996.4,513.9 1998.0,515.9 2000.2,518.5 2002.8,520.4 2005.2,521.0 2007.0,521.2 2008.1,521.8 2008.8,523.1 2009.8,523.5 2011.5,522.5 2013.9,520.2 2016.5,517.7 2018.4,515.5 2019.9,514.3 2020.9,513.8 2021.5,513.4 2022.1,512.7 2023.2,512.7 2025.0,512.8 2027.4,513.9 2030.0,516.0 2032.2,517.8 2033.8,518.2 2034.7,517.0 2035.4,515.2 2036.6,514.4 2038.5,514.5 2041.0,515.0 2043.0,515.6 2044.7,515.7 2046.1,515.8 2047.1,516.2 2048.0,516.9 2048.8,519.0 2050.0,521.5 2052.0,523.0 2054.6,522.9 2057.1,522.3 2059.2,522.3 2060.5,522.8 2061.3,522.7 2062.1,521.4 2063.5,518.9 2064.7,516.0 2066.2,513.5 2067.8,511.7 2069.5,510.5 2071.7,511.2 2073.3,511.8 2074.2,511.7 2074.9,511.2 2075.8,511.0 2077.3,511.7 2079.4,512.8 2081.7,513.5 2084.2,513.4 2086.1,511.6 2087.2,509.5 2087.9,508.5 2088.9,508.6 2090.5,508.9 2092.8,508.6 2095.4,507.8 2097.8,507.3 2099.5,508.3 2100.5,509.8 2101.2,511.0 2102.3,510.6 2104.0,507.7 2106.4,504.5 2109.0,507.6 2111.3,510.8 2112.9,511.5 2113.8,510.5 2114.6,508.5 2115.7,506.9 2117.5,506.9 2119.9,508.4 2122.4,510.1 2124.5,511.1 2126.0,511.3 2126.9,511.3 2127.6,511.9 2128.6,513.2 2130.1,514.4 2132.2,514.5 2134.8,512.3 2137.2,509.3 2138.9,506.9 2139.7,507.8 2140.2,509.1 2140.7,510.7 2141.2,512.3 2142.0,513.4 2143.2,514.3 2144.8,515.0 2146.5,516.1 2148.4,517.8 2150.5,518.5 2152.1,519.7" fill="none" stroke="#0072bd" stroke-width="4" stroke-linejoin="round" stroke-linecap="round" shape-rendering="crispEdges"/>
<polyline points="253.0,502.6 258.6,503.1 267.7,505.1 275.2,509.7 279.8,506.0 284.3,503.1 287.8,504.1 295.4,506.1 299.9,506.1 303.5,511.2 309.5,506.6 312.0,505.6 315.1,506.6 323.0,508.0 331.7,507.7 336.8,512.2 343.8,506.6 347.4,503.1 350.4,506.6 353.4,513.2 358.4,517.2 362.5,513.7 366.0,510.2 368.4,510.2 372.0,519.9 378.1,521.1 384.2,538.1 386.6,527.2 391.5,522.3 393.9,516.2 395.2,494.3 397.0,476.1 398.7,464.8 402.9,460.5 406.2,430.4 409.4,415.4 414.8,409.0 418.0,396.1 420.8,390.7 424.4,398.2 429.8,395.0 433.0,402.5 436.2,430.4 439.9,434.7 442.7,456.2 445.0,490.2 447.0,524.3 451.0,536.3 454.0,556.3 457.0,590.4 460.0,608.5 463.0,612.5 466.0,630.5 470.1,654.6 474.1,652.6 478.1,664.6 483.1,638.5 488.1,630.5 492.1,610.5 495.1,578.4 499.1,572.4 502.1,550.3 504.1,528.3 506.1,496.2 509.2,488.2 512.2,466.1 516.2,436.1 520.2,426.1 524.2,414.0 528.2,405.0 533.3,409.8 537.4,405.6 539.9,419.6 543.2,439.4 548.1,446.0 551.4,464.1 553.9,492.1 558.8,498.7 561.3,515.1 564.6,546.4 569.5,553.0 572.0,564.5 576.1,584.3 581.0,590.9 586.0,605.7 590.9,599.9 596.7,607.3 602.4,582.6 606.6,579.3 610.7,564.5 613.1,539.8 618.1,536.5 620.5,521.7 623.8,498.7 627.1,492.1 630.4,478.9 635.4,459.1 639.5,455.9 643.6,444.3 646.9,438.6 651.8,444.3 656.0,441.9 660.1,452.6 664.2,462.4 668.3,465.7 673.2,487.1 678.2,490.4 682.3,508.5 687.2,526.6 692.2,531.6 696.3,548.0 701.2,553.0 705.3,564.5 711.1,561.2 717.7,570.3 721.8,556.3 727.6,553.0 732.5,533.2 737.4,528.3 740.7,515.1 744.0,495.4 749.0,488.8 752.3,472.3 756.4,465.7 760.5,455.9 763.8,452.6 768.7,449.3 772.0,453.4 776.1,450.9 780.3,458.7 784.2,461.2 788.0,466.4 791.9,480.6 795.8,485.7 799.6,490.9 803.5,502.5 807.4,510.2 811.2,517.9 813.8,527.0 816.4,532.1 820.3,533.4 824.1,541.1 826.7,546.3 830.6,543.7 835.7,546.9 839.6,542.4 843.4,538.5 847.3,539.8 849.9,532.1 852.5,519.2 856.3,515.3 860.2,507.6 862.8,497.3 866.6,493.4 871.8,490.9 874.4,479.3 876.9,472.8 880.8,470.3 883.4,463.8 887.3,461.2 891.1,459.9 895.0,453.5 897.6,449.6 900.1,454.8 904.0,457.4 907.9,459.9 911.7,466.4 914.3,471.5 918.2,471.5 920.8,478.0 923.3,492.2 925.9,497.3 929.8,505.0 932.4,510.2 935.0,523.1 937.5,528.2 941.4,536.0 945.2,551.4 949.1,552.7 953.0,554.0 956.2,558.5 959.4,543.7 964.6,542.4 968.4,537.3 972.3,524.4 976.2,517.9 980.0,507.6 982.6,499.9 987.8,497.3 991.6,488.3 995.5,480.6 1000.6,478.0 1004.5,472.8 1008.4,466.4 1014.7,463.6 1018.4,469.4 1022.6,476.3 1027.9,475.7 1031.0,481.0 1034.2,489.4 1038.4,496.7 1041.5,504.1 1045.7,507.3 1049.9,507.3 1052.0,513.6 1054.1,520.9 1057.3,526.2 1062.5,529.3 1068.8,531.4 1073.1,536.7 1077.3,546.1 1081.5,540.9 1085.7,539.8 1089.9,532.5 1094.1,529.3 1098.3,530.4 1101.4,519.9 1104.6,515.7 1110.9,512.5 1115.1,508.3 1120.3,505.2 1123.5,498.8 1125.6,491.5 1130.8,487.3 1136.1,484.1 1140.3,484.1 1145.6,483.1 1149.8,487.3 1152.9,493.6 1157.1,494.6 1159.2,498.8 1162.4,507.3 1167.6,508.3 1170.8,511.5 1172.9,520.9 1176.0,526.2 1180.2,529.3 1183.4,537.7 1187.6,541.9 1191.8,543.0 1197.1,549.3 1202.3,547.2 1206.5,548.8 1209.7,539.8 1213.9,536.7 1218.1,532.5 1222.3,527.2 1227.5,523.0 1229.6,516.7 1231.7,508.3 1234.9,503.1 1240.1,503.1 1245.4,496.7 1250.7,490.4 1254.2,489.4 1257.4,499.9 1263.7,501.0 1267.9,504.1 1271.0,509.4 1275.2,511.5 1278.4,517.8 1282.6,519.9 1289.9,520.9 1296.2,523.1 1301.5,524.1 1305.7,529.4 1310.9,533.6 1315.2,537.8 1318.3,533.6 1324.6,531.5 1329.9,533.6 1335.1,531.5 1339.3,526.2 1343.5,525.2 1348.8,525.2 1351.9,517.8 1355.1,513.6 1359.3,508.3 1362.4,502.0 1365.6,498.9 1369.8,497.8 1374.0,492.6 1377.2,492.6 1380.3,495.7 1383.5,493.6 1386.6,496.8 1389.8,502.0 1395.0,503.1 1399.2,507.3 1402.4,510.4 1407.6,512.5 1410.8,516.7 1416.0,517.8 1420.2,517.3 1424.4,523.1 1428.6,525.2 1432.9,526.2 1437.1,524.1 1442.3,524.6 1446.5,529.4 1449.7,524.1 1454.9,518.8 1460.2,514.6 1466.5,514.6 1470.7,511.5 1473.8,506.2 1481.2,504.1 1487.5,501.0 1493.8,494.7 1499.5,495.7 1504.7,498.9 1511.0,494.7 1517.3,491.5 1522.6,493.6 1527.8,493.6 1532.0,497.8 1536.2,504.1 1540.4,510.4 1544.6,514.6 1550.9,515.7 1557.3,516.7 1563.6,518.8 1569.9,514.6 1576.2,516.7 1581.4,511.5 1588.8,509.4 1594.0,502.0 1600.3,501.0 1605.6,498.4 1610.8,496.8 1616.1,488.4 1620.3,485.2 1625.0,482.1 1629.8,486.3 1637.1,486.8 1641.3,491.5 1646.6,493.6 1650.8,504.1 1656.0,507.3 1660.2,513.6 1667.6,514.6 1673.9,518.8 1679.2,516.7 1687.6,515.7 1694.9,515.7 1699.1,506.2 1704.4,504.1 1710.7,501.0 1719.1,498.9 1727.5,496.8 1736.3,492.6 1743.7,488.9 1748.9,494.7 1755.2,501.0 1761.5,502.0 1767.8,502.0 1772.0,508.3 1779.4,508.3 1784.6,513.6 1790.9,518.8 1797.3,518.8 1804.6,521.0 1809.9,517.8 1816.2,515.7 1820.4,508.3 1827.7,504.1 1834.0,503.1 1840.3,496.8 1845.6,499.9 1851.9,504.1 1858.2,504.1 1863.5,508.3 1869.8,508.3 1876.1,506.2 1881.3,509.4 1887.6,511.5 1893.9,513.6 1899.2,514.6 1903.4,518.8 1908.6,519.9 1913.9,524.1 1919.2,523.1 1924.4,519.9 1932.8,517.8 1938.1,508.3 1944.4,507.3 1950.7,508.3 1959.1,508.3 1968.4,511.2 1976.8,513.7 1983.5,513.7 1987.7,517.1 1995.3,518.7 2002.0,520.4 2008.7,522.1 2015.5,521.3 2022.2,515.4 2028.9,515.8 2035.6,515.8 2040.7,517.1 2045.7,521.3 2052.4,522.1 2059.2,522.1 2064.2,521.3 2068.4,515.4 2073.4,513.7 2081.0,511.2 2086.1,511.2 2094.5,512.0 2102.9,512.0 2111.3,511.6 2119.7,512.4 2132.3,512.4 2137.3,510.3 2141.5,515.4 2147.4,521.3 2155.0,516.6" fill="none" stroke="#00ffff" stroke-width="4" stroke-linejoin="round" stroke-linecap="round" shape-rendering="crispEdges"/>
<polyline points="253.0,505.1 256.0,507.2 266.1,507.7 270.2,509.7 276.2,508.2 279.8,503.6 284.3,507.2 293.4,507.2 298.4,509.7 303.5,516.2 308.5,511.7 315.1,512.2 317.1,513.2 324.7,511.7 327.7,506.6 334.7,514.2 340.8,514.7 345.8,510.7 348.4,511.7 352.9,517.2 358.4,514.2 363.5,506.6 365.3,524.8" fill="none" stroke="#0072bd" stroke-width="4" stroke-linejoin="round" stroke-linecap="round" shape-rendering="crispEdges"/>
<path d="M253.0 248.3H267.5M2148.5 248.3H2133.0M253.0 441.2H267.5M2148.5 441.2H2133.0M253.0 634.0H267.5M2148.5 634.0H2133.0M253.0 826.8H267.5M2148.5 826.8H2133.0M253.0 1019.7H267.5M2148.5 1019.7H2133.0M488.1 58.0V73.5M488.1 1210.0V1194.5M725.6 58.0V73.5M725.6 1210.0V1194.5M963.2 58.0V73.5M963.2 1210.0V1194.5M1200.8 58.0V73.5M1200.8 1210.0V1194.5M1438.3 58.0V73.5M1438.3 1210.0V1194.5M1675.9 58.0V73.5M1675.9 1210.0V1194.5M1913.4 58.0V73.5M1913.4 1210.0V1194.5" stroke="#000" stroke-width="5" fill="none" stroke-linecap="round"/>
<rect x="245" y="1210" width="5" height="5" fill="#000"/>
<path d="M248 53H2154V58H248ZM245 1210H2154V1215H245ZM248 53H253V1215H248ZM2148 53H2154V1215H2148Z" fill="#000"/>
<text transform="translate(-178.20 -347.67) scale(1.0104 1.0714) translate(300 400)" font-family="'Liberation Serif', 'Times New Roman', serif" font-size="64" stroke="#fff" stroke-width="0.6">410</text>
<text transform="translate(-174.74 -152.82) scale(0.9993 1.0690) translate(300 400)" font-family="'Liberation Serif', 'Times New Roman', serif" font-size="64" stroke="#fff" stroke-width="0.6">405</text>
<text transform="translate(-180.71 42.46) scale(1.0176 1.0631) translate(300 400)" font-family="'Liberation Serif', 'Times New Roman', serif" font-size="64" stroke="#fff" stroke-width="0.6">400</text>
<text transform="translate(-171.31 226.96) scale(0.9911 1.0881) translate(300 400)" font-family="'Liberation Serif', 'Times New Roman', serif" font-size="64" stroke="#fff" stroke-width="0.6">395</text>
<text transform="translate(-175.98 419.11) scale(1.0056 1.0857) translate(300 400)" font-family="'Liberation Serif', 'Times New Roman', serif" font-size="64" stroke="#fff" stroke-width="0.6">390</text>
<text transform="translate(-170.93 615.02) scale(0.9889 1.0810) translate(300 400)" font-family="'Liberation Serif', 'Times New Roman', serif" font-size="64" stroke="#fff" stroke-width="0.6">385</text>
<text transform="translate(-176.96 800.65) scale(1.0078 1.1024) translate(300 400)" font-family="'Liberation Serif', 'Times New Roman', serif" font-size="64" stroke="#fff" stroke-width="0.6">380</text>
<text transform="translate(1885.23 -343.62) scale(0.9793 1.0738) translate(300 400)" font-family="'Liberation Serif', 'Times New Roman', serif" font-size="64" stroke="#fff" stroke-width="0.6">150</text>
<text transform="translate(1885.23 -150.67) scale(0.9793 1.0714) translate(300 400)" font-family="'Liberation Serif', 'Times New Roman', serif" font-size="64" stroke="#fff" stroke-width="0.6">100</text>
<text transform="translate(1877.70 39.68) scale(1.0474 1.0738) translate(300 400)" font-family="'Liberation Serif', 'Times New Roman', serif" font-size="64" stroke="#fff" stroke-width="0.6">50</text>
<text transform="translate(1891.11 235.89) scale(1.0231 1.0643) translate(300 400)" font-family="'Liberation Serif', 'Times New Roman', serif" font-size="64" stroke="#fff" stroke-width="0.6">0</text>
<text transform="translate(1863.87 431.34) scale(1.0202 1.0571) translate(300 400)" font-family="'Liberation Serif', 'Times New Roman', serif" font-size="64" stroke="#fff" stroke-width="0.6"><tspan font-size="51" dy="4.7">−</tspan><tspan dx="-2.6" dy="-4.7">50</tspan></text>
<text transform="translate(1869.36 618.03) scale(0.9991 1.0667) translate(300 400)" font-family="'Liberation Serif', 'Times New Roman', serif" font-size="64" stroke="#fff" stroke-width="0.6"><tspan font-size="51" dy="4.7">−</tspan><tspan dx="-2.6" dy="-4.7">100</tspan></text>
<text transform="translate(1874.10 812.39) scale(0.9845 1.0595) translate(300 400)" font-family="'Liberation Serif', 'Times New Roman', serif" font-size="64" stroke="#fff" stroke-width="0.6"><tspan font-size="51" dy="4.7">−</tspan><tspan dx="-2.6" dy="-4.7">150</tspan></text>
<text transform="translate(-78.22 848.32) scale(0.9776 1.0762) translate(300 400)" font-family="'Liberation Serif', 'Times New Roman', serif" font-size="64" stroke="#fff" stroke-width="0.6">0.4</text>
<text transform="translate(151.68 848.32) scale(1.0053 1.0762) translate(300 400)" font-family="'Liberation Serif', 'Times New Roman', serif" font-size="64" stroke="#fff" stroke-width="0.6">0.6</text>
<text transform="translate(391.01 852.03) scale(0.9986 1.0667) translate(300 400)" font-family="'Liberation Serif', 'Times New Roman', serif" font-size="64" stroke="#fff" stroke-width="0.6">0.8</text>
<text transform="translate(636.31 852.03) scale(0.9676 1.0667) translate(300 400)" font-family="'Liberation Serif', 'Times New Roman', serif" font-size="64" stroke="#fff" stroke-width="0.6">1.0</text>
<text transform="translate(865.33 848.32) scale(1.0029 1.0762) translate(300 400)" font-family="'Liberation Serif', 'Times New Roman', serif" font-size="64" stroke="#fff" stroke-width="0.6">1.2</text>
<text transform="translate(1118.51 848.32) scale(0.9493 1.0762) translate(300 400)" font-family="'Liberation Serif', 'Times New Roman', serif" font-size="64" stroke="#fff" stroke-width="0.6">1.4</text>
<text transform="translate(1347.25 848.32) scale(0.9806 1.0762) translate(300 400)" font-family="'Liberation Serif', 'Times New Roman', serif" font-size="64" stroke="#fff" stroke-width="0.6">1.6</text>
<text transform="translate(1592.30 846.52) scale(0.9592 1.0810) translate(300 400)" font-family="'Liberation Serif', 'Times New Roman', serif" font-size="64" stroke="#fff" stroke-width="0.6">1.8</text>
<text transform="translate(1801.26 851.63) scale(1.1120 1.0667) translate(300 400)" font-family="'Liberation Serif', 'Times New Roman', serif" font-size="64" stroke="#fff" stroke-width="0.6">2</text>
<text transform="translate(795.76 930.46) scale(1.0273 1.0881) translate(300 400)" font-family="'Liberation Serif', 'Times New Roman', serif" font-size="64" stroke="#fff" stroke-width="0.6">T/s</text>
<text transform="translate(-330.14 -237.98) scale(1.0172 1.0406) translate(400 1000) rotate(-90)" font-family="'Liberation Serif', 'Times New Roman', serif" font-size="64" stroke="#fff" stroke-width="0.6">Voltage/kV</text>
<text transform="translate(1899.80 264.52) scale(1.0339 1.0145) translate(400 100) rotate(90)" font-family="'Liberation Serif', 'Times New Roman', serif" font-size="64" stroke="#fff" stroke-width="0.6">Reactive power/Mvar</text>
<text transform="translate(990.44 -46.31) scale(1.0095 0.9650) translate(300 400)" font-family="'Liberation Serif', 'Times New Roman', serif" font-size="65" stroke="#fff" stroke-width="0.6">400kV bus voltage</text>
<text transform="translate(727.57 683.00) scale(0.9998 1.0000) translate(300 400)" font-family="'Liberation Serif', 'Times New Roman', serif" font-size="65" stroke="#fff" stroke-width="0.6">The reactive power compensation</text>
<text transform="translate(777.58 767.80) scale(0.9997 0.9833) translate(300 400)" font-family="'Liberation Serif', 'Times New Roman', serif" font-size="65" stroke="#fff" stroke-width="0.6">device outputs reactive power</text>
<path d="M1522.6 353V445" stroke="#000" stroke-width="5" stroke-linecap="round"/>
<path d="M1507.3 441.7H1537.9L1522.6 487.7Z" fill="#000"/>
<path d="M1454 1038.3V945" stroke="#000" stroke-width="4" stroke-linecap="round"/>
<path d="M1438 947.1H1470L1454 901.7Z" fill="#000"/>
</svg>
</body></html>
